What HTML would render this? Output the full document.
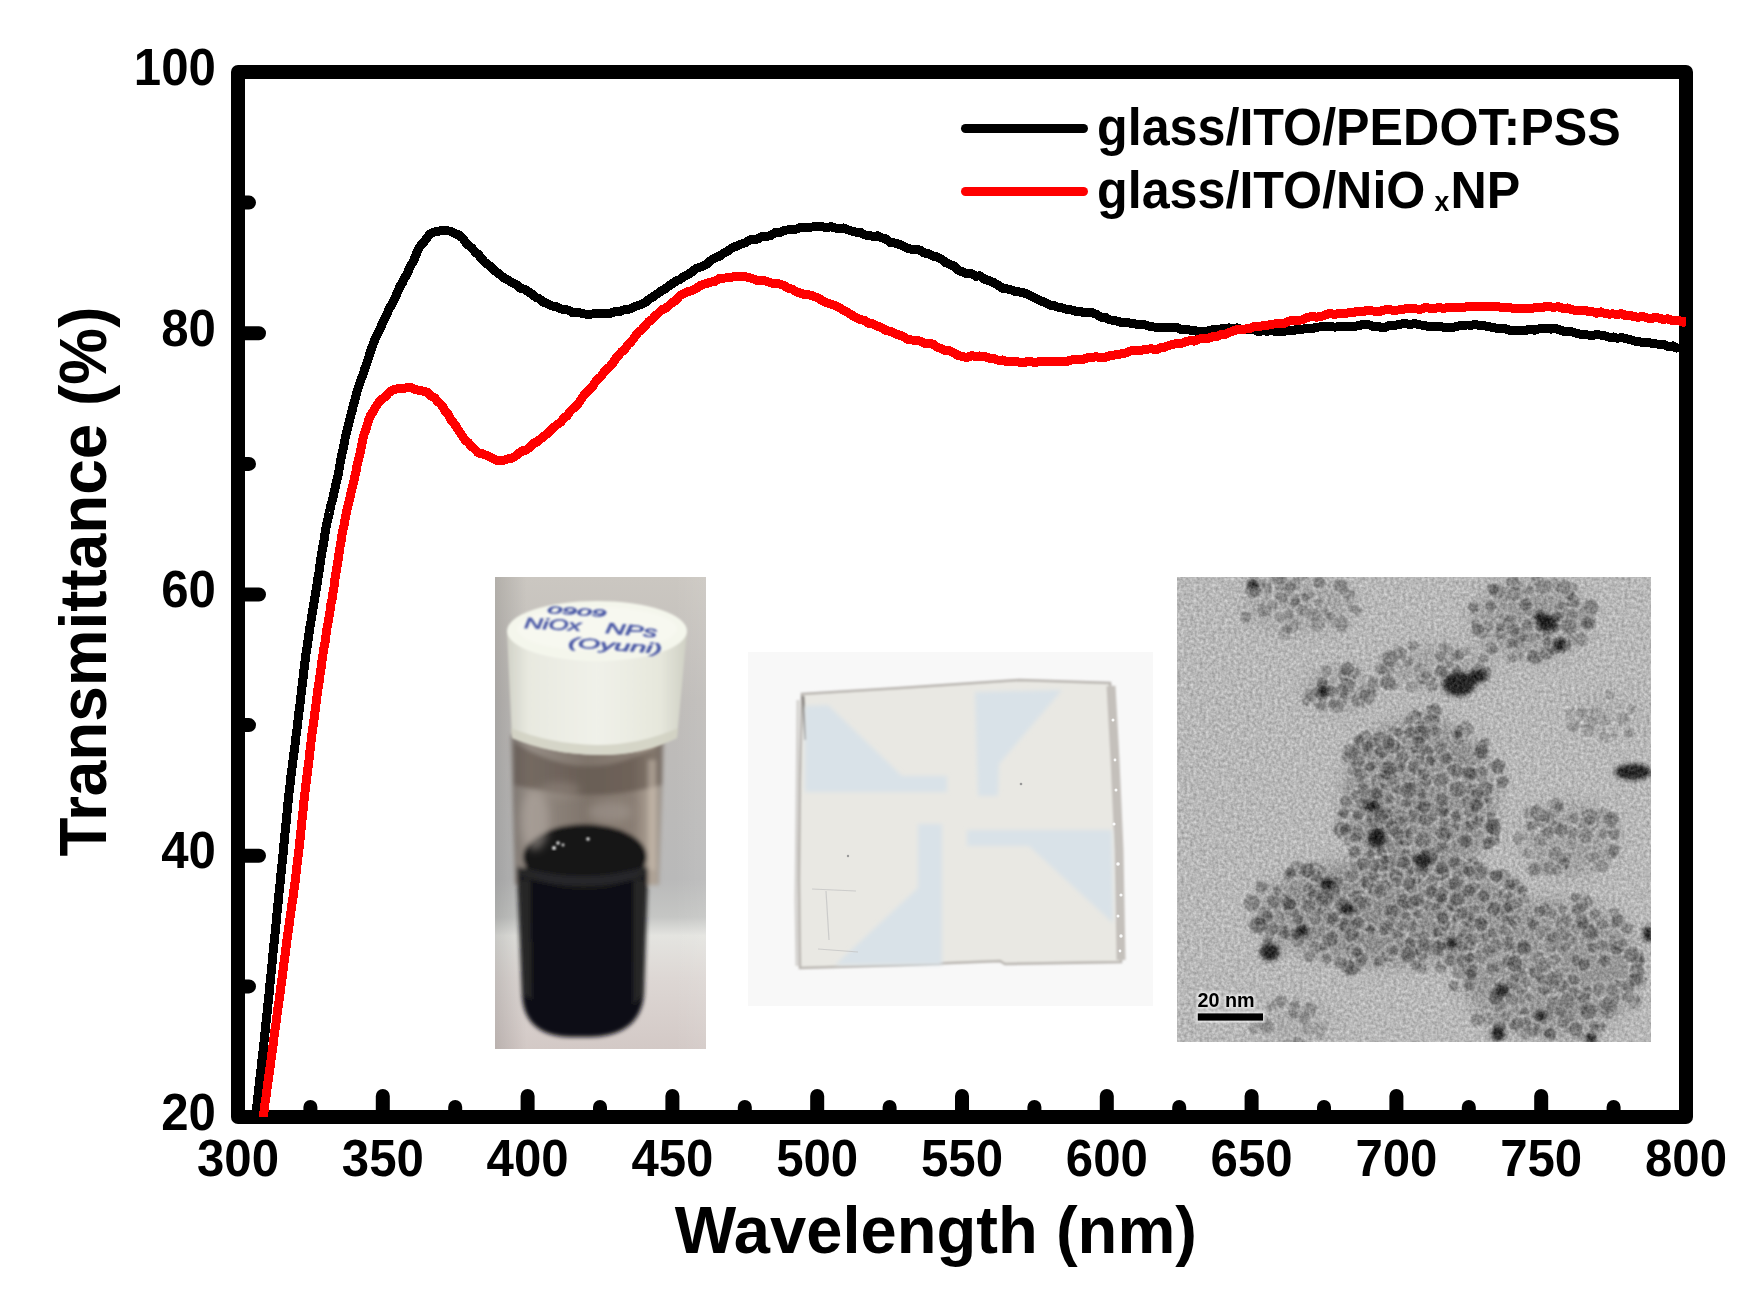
<!DOCTYPE html>
<html><head><meta charset="utf-8"><title>Transmittance spectra</title>
<style>html,body{margin:0;padding:0;background:#fff;width:1760px;height:1303px;overflow:hidden}svg{display:block}</style>
</head><body>
<svg width="1760" height="1303" viewBox="0 0 1760 1303">
<rect width="100%" height="100%" fill="#fff"/>
<defs>
  <filter id="b1" x="-5%" y="-5%" width="110%" height="110%"><feGaussianBlur stdDeviation="1"/></filter>
  <filter id="b2" x="-10%" y="-10%" width="120%" height="120%"><feGaussianBlur stdDeviation="2"/></filter>
  <filter id="b4" x="-20%" y="-20%" width="140%" height="140%"><feGaussianBlur stdDeviation="4"/></filter>
  <filter id="b8" x="-30%" y="-30%" width="160%" height="160%"><feGaussianBlur stdDeviation="8"/></filter>
  <clipPath id="cv"><rect x="495" y="577" width="211" height="472"/></clipPath>
  <clipPath id="cg"><rect x="748" y="652" width="405" height="354"/></clipPath>
  <clipPath id="ct"><rect x="1177" y="577" width="474" height="465"/></clipPath>
  <linearGradient id="vbg" x1="0" y1="0" x2="0" y2="1">
    <stop offset="0" stop-color="#cbc7c1"/>
    <stop offset="0.26" stop-color="#bfbcb9"/>
    <stop offset="0.64" stop-color="#b9b9b9"/>
    <stop offset="0.72" stop-color="#c5c6c4"/>
    <stop offset="0.76" stop-color="#e4e4e0"/>
    <stop offset="0.85" stop-color="#ddd7d4"/>
    <stop offset="1" stop-color="#d3c9c6"/>
  </linearGradient>
  <linearGradient id="vbgh" x1="0" y1="0" x2="1" y2="0">
    <stop offset="0" stop-color="#000" stop-opacity="0.12"/>
    <stop offset="0.15" stop-color="#000" stop-opacity="0"/>
    <stop offset="0.85" stop-color="#fff" stop-opacity="0"/>
    <stop offset="1" stop-color="#fff" stop-opacity="0.08"/>
  </linearGradient>
  <linearGradient id="capside" x1="0" y1="0" x2="1" y2="0">
    <stop offset="0" stop-color="#d2d3c8"/>
    <stop offset="0.12" stop-color="#e8e9e0"/>
    <stop offset="0.5" stop-color="#f0f1e9"/>
    <stop offset="0.85" stop-color="#e6e7dc"/>
    <stop offset="1" stop-color="#cfd0c4"/>
  </linearGradient>
  <linearGradient id="glass" x1="0" y1="0" x2="1" y2="0">
    <stop offset="0" stop-color="#7c7570"/>
    <stop offset="0.12" stop-color="#958c84"/>
    <stop offset="0.5" stop-color="#7f746b"/>
    <stop offset="0.8" stop-color="#8a7e74"/>
    <stop offset="0.93" stop-color="#b2a699"/>
    <stop offset="1" stop-color="#938c86"/>
  </linearGradient>
  <linearGradient id="liq" x1="0" y1="0" x2="1" y2="0">
    <stop offset="0" stop-color="#2c2c2c"/>
    <stop offset="0.15" stop-color="#161617"/>
    <stop offset="0.5" stop-color="#0b0b0d"/>
    <stop offset="0.85" stop-color="#151516"/>
    <stop offset="1" stop-color="#303030"/>
  </linearGradient>
  <filter id="grain" x="0" y="0" width="100%" height="100%" color-interpolation-filters="sRGB">
    <feTurbulence type="fractalNoise" baseFrequency="0.32" numOctaves="2" seed="3" result="n"/>
    <feColorMatrix in="n" type="matrix" values="1 0 0 0 0  1 0 0 0 0  1 0 0 0 0  0 0 0 0 1" result="ng"/>
    <feGaussianBlur in="ng" stdDeviation="0.7" result="nb"/>
    <feComposite in="nb" in2="SourceGraphic" operator="arithmetic" k1="0" k2="0.33" k3="1" k4="-0.165"/>
  </filter>
</defs>

<!-- ============ VIAL PHOTO ============ -->
<g clip-path="url(#cv)">
  <rect x="495" y="577" width="211" height="472" fill="url(#vbg)"/>
  <rect x="495" y="577" width="211" height="472" fill="url(#vbgh)"/>
  <g filter="url(#b2)">
    <!-- glass tube -->
    <path d="M511,735 L664,735 L659,885 L515,885 Z" fill="url(#glass)"/>
    <path d="M514,742 Q590,790 662,742 L662,785 Q590,805 514,785 Z" fill="#54483f" opacity="0.5"/>
    <rect x="648" y="760" width="8" height="110" fill="#c9bdb0" opacity="0.5"/>
    <!-- liquid -->
    <path d="M517,868 L648,868 L644,995 Q640,1036 590,1037 L570,1037 Q524,1036 522,995 Z" fill="#111113"/>
    <path d="M519,880 L530,880 L532,1000 L524,995 Z" fill="#2a2a2b" opacity="0.8"/>
    <path d="M634,880 L646,880 L643,995 L633,1005 Z" fill="#2c2c2d" opacity="0.8"/>
    <ellipse cx="585" cy="857" rx="62" ry="33" fill="#141416"/>
    <path d="M517,866 Q584,886 648,866 L648,876 Q584,896 517,876 Z" fill="#3a3a3c" opacity="0.5"/>
  </g>
  <g filter="url(#b4)">
    <ellipse cx="535" cy="820" rx="14" ry="30" fill="#b3aaa2" opacity="0.55"/>
    <ellipse cx="610" cy="812" rx="22" ry="10" fill="#a69c93" opacity="0.5"/>
    <ellipse cx="560" cy="790" rx="20" ry="8" fill="#a0968d" opacity="0.4"/>
  </g>
  <g fill="#e8e8e8" filter="url(#b1)">
    <circle cx="554" cy="848" r="2"/><circle cx="558" cy="843" r="1.8"/><circle cx="563" cy="845" r="1.4"/>
    <circle cx="588" cy="839" r="1.8"/>
  </g>
  <g filter="url(#b1)">
    <!-- cap side -->
    <path d="M507,631 L687,631 L677,738 Q640,756 597,755 Q550,754 512,738 Z" fill="url(#capside)"/>
    <path d="M511,728 Q550,744 597,745 Q640,745 678,728 L677,738 Q640,756 597,755 Q550,754 512,738 Z" fill="#cfd0c0" opacity="0.8"/>
    <!-- cap top -->
    <ellipse cx="597" cy="631" rx="90" ry="30" fill="#f4f6ec"/>
    <ellipse cx="597" cy="629" rx="80" ry="22" fill="#f7f8f0"/>
  </g>
  <g fill="#2c3c98" stroke="#2c3c98" stroke-width="0.6" font-family="Liberation Sans, sans-serif" font-style="italic" opacity="0.85" filter="url(#b1)">
    <text x="547" y="613" font-size="10" textLength="59" lengthAdjust="spacingAndGlyphs" transform="rotate(4 547 613)">0909</text>
    <text x="524" y="628" font-size="15" textLength="57" lengthAdjust="spacingAndGlyphs" transform="rotate(3 524 628)">NiOx</text>
    <text x="605" y="633" font-size="15" textLength="52" lengthAdjust="spacingAndGlyphs" transform="rotate(5 605 633)">NPs</text>
    <text x="568" y="647" font-size="14" textLength="94" lengthAdjust="spacingAndGlyphs" transform="rotate(4 568 647)">(Oyuni)</text>
  </g>
</g>

<!-- ============ GLASS SUBSTRATE PHOTO ============ -->
<g clip-path="url(#cg)">
  <rect x="748" y="652" width="405" height="354" fill="#f8f8f8"/>
  <g filter="url(#b1)">
    <path d="M798,700 L797,800 L796,900 L797,966" fill="none" stroke="#d4d2cf" stroke-width="3"/>
    <path d="M802,694 L900,688 L1019,680 L1110,683 L1113,720 L1116,800 L1120,880 L1121,962 L1005,964 L1000,961 L900,965 L800,968 L799,880 L800,780 Z" fill="#e9e8e3" stroke="#b9b5b0" stroke-width="2.5"/>
    <path d="M803,696 L806,740" stroke="#8e8a86" stroke-width="3"/>
    <path d="M1111,686 L1115,760 L1119,850 L1121,960" fill="none" stroke="#c4c0bb" stroke-width="9"/>
  </g>
  <g fill="#fbfbfb">
    <circle cx="1114" cy="824" r="1.6"/><circle cx="1118" cy="864" r="1.8"/><circle cx="1121" cy="895" r="1.6"/><circle cx="1118" cy="916" r="1.5"/><circle cx="1121" cy="936" r="1.7"/><circle cx="1120" cy="951" r="1.4"/>
    <circle cx="1113" cy="720" r="1.5"/><circle cx="1115" cy="760" r="1.4"/><circle cx="1116" cy="790" r="1.5"/>
  </g>
  <g fill="#d9e2e8" filter="url(#b2)">
    <path d="M805,706 L828,705 L902,776 L947,776 L947,792 L805,792 Z"/>
    <path d="M975,692 L1062,690 L999,764 L998,796 L978,796 Z"/>
    <path d="M967,830 L1112,830 L1113,923 L1029,846 L967,846 Z"/>
    <path d="M918,824 L942,824 L942,965 L835,965 L918,888 Z"/>
  </g>
  <g stroke="#c4c4c4" stroke-width="1.2" fill="none" opacity="0.8">
    <path d="M812,889 L856,891 M826,891 L829,940 M818,949 L858,952"/>
  </g>
  <circle cx="1021" cy="784" r="1.3" fill="#999"/>
  <circle cx="848" cy="856" r="1.2" fill="#999"/>
</g>

<!-- ============ TEM IMAGE ============ -->
<g clip-path="url(#ct)">
  <g filter="url(#grain)">
  <rect x="1177" y="577" width="474" height="465" fill="#b8b8b8"/>
  <g filter="url(#b8)"><ellipse cx="1300" cy="605" rx="54" ry="27" fill="#808080" opacity="0.33"/><ellipse cx="1530" cy="620" rx="58" ry="38" fill="#808080" opacity="0.55"/><ellipse cx="1340" cy="690" rx="34" ry="20" fill="#808080" opacity="0.44"/><ellipse cx="1435" cy="668" rx="54" ry="22" fill="#808080" opacity="0.39"/><ellipse cx="1420" cy="800" rx="76" ry="81" fill="#808080" opacity="0.72"/><ellipse cx="1390" cy="912" rx="130" ry="52" fill="#808080" opacity="0.77"/><ellipse cx="1568" cy="840" rx="47" ry="36" fill="#808080" opacity="0.44"/><ellipse cx="1608" cy="716" rx="34" ry="20" fill="#808080" opacity="0.17"/><ellipse cx="1550" cy="968" rx="90" ry="68" fill="#808080" opacity="0.61"/><ellipse cx="1293" cy="1022" rx="40" ry="20" fill="#808080" opacity="0.22"/></g>
<g filter="url(#b1)" fill-opacity="0.6" stroke="#dcdcdc" stroke-opacity="0.55" stroke-width="1.4" stroke-linejoin="round"><polygon points="1263.9,581.3 1268.0,585.1 1267.3,590.5 1262.0,592.9 1256.4,589.5 1258.3,583.1" fill="rgb(133,133,133)"/><polygon points="1331.2,609.7 1329.2,618.5 1320.6,621.7 1317.2,613.3 1322.3,606.1" fill="rgb(113,113,113)"/><polygon points="1307.8,604.3 1305.1,611.2 1297.6,611.0 1295.9,603.6 1302.2,598.1" fill="rgb(100,100,100)"/><polygon points="1279.2,604.9 1273.4,597.8 1276.1,589.5 1284.6,587.8 1291.0,593.9 1288.9,603.4" fill="rgb(112,112,112)"/><polygon points="1352.0,599.7 1355.4,604.9 1353.1,610.7 1346.6,611.7 1343.9,606.1 1345.1,599.5" fill="rgb(121,121,121)"/><polygon points="1347.2,613.5 1346.3,607.6 1349.7,603.6 1355.2,604.5 1358.4,610.2 1353.2,614.1" fill="rgb(125,125,125)"/><polygon points="1307.5,571.8 1309.0,578.8 1303.3,583.7 1295.7,581.2 1295.4,573.5 1301.0,569.2" fill="rgb(129,129,129)"/><polygon points="1241.5,622.2 1238.9,616.9 1241.1,610.8 1247.5,610.8 1253.1,613.9 1252.1,620.4 1247.4,625.2" fill="rgb(113,113,113)"/><polygon points="1262.8,578.3 1273.4,581.8 1272.6,594.5 1260.8,594.5 1253.7,585.5" fill="rgb(119,119,119)"/><polygon points="1289.9,618.8 1286.7,624.1 1280.8,622.9 1276.3,619.2 1277.2,612.8 1283.2,610.5 1289.0,612.8" fill="rgb(126,126,126)"/><polygon points="1329.3,623.3 1323.8,619.1 1326.1,612.2 1333.0,610.2 1337.1,615.8 1335.4,621.9" fill="rgb(109,109,109)"/><polygon points="1301.3,590.1 1291.6,591.8 1287.5,583.8 1292.6,575.6 1302.2,579.8" fill="rgb(118,118,118)"/><polygon points="1311.5,631.7 1308.0,623.8 1312.0,616.3 1320.3,614.7 1326.9,620.0 1325.7,628.0 1319.8,633.6" fill="rgb(132,132,132)"/><polygon points="1286.0,617.4 1295.3,617.9 1301.8,624.4 1297.3,632.8 1287.8,635.0 1282.3,626.6" fill="rgb(118,118,118)"/><polygon points="1314.8,590.0 1312.4,583.5 1313.9,576.7 1320.6,576.3 1326.9,578.8 1326.5,585.7 1321.7,589.8" fill="rgb(122,122,122)"/><polygon points="1294.9,612.1 1294.4,619.2 1287.6,622.1 1281.7,617.6 1283.6,611.0 1289.5,607.3" fill="rgb(110,110,110)"/><polygon points="1258.4,585.5 1264.0,589.2 1263.0,595.4 1259.1,599.3 1253.2,599.0 1249.6,593.6 1252.7,588.2" fill="rgb(126,126,126)"/><polygon points="1287.0,592.7 1275.6,589.6 1270.9,578.5 1282.3,573.3 1291.2,580.9" fill="rgb(102,102,102)"/><polygon points="1269.9,621.2 1264.3,616.1 1265.3,609.2 1272.5,608.9 1275.4,615.5" fill="rgb(139,139,139)"/><polygon points="1334.5,617.5 1341.4,613.1 1348.5,617.6 1350.8,625.7 1345.5,633.4 1336.0,632.7 1331.6,624.9" fill="rgb(123,123,123)"/><polygon points="1311.8,578.2 1321.1,574.1 1327.7,582.6 1321.3,590.6 1312.5,587.4" fill="rgb(123,123,123)"/><polygon points="1294.7,602.7 1298.0,596.9 1304.9,597.7 1308.5,603.0 1308.0,609.9 1301.3,611.8 1295.6,608.9" fill="rgb(106,106,106)"/><polygon points="1289.9,579.2 1296.9,582.8 1296.8,590.3 1290.9,596.7 1283.8,591.4 1281.8,582.8" fill="rgb(110,110,110)"/><polygon points="1302.9,618.9 1294.9,609.1 1302.8,600.8 1313.5,602.4 1313.4,613.7" fill="rgb(139,139,139)"/><polygon points="1347.4,587.1 1355.8,590.7 1355.5,600.9 1345.2,601.8 1339.8,593.3" fill="rgb(115,115,115)"/><polygon points="1339.6,595.1 1332.6,588.6 1334.3,579.2 1343.1,578.1 1349.7,582.9 1348.7,592.0" fill="rgb(101,101,101)"/><polygon points="1305.9,589.2 1312.9,588.9 1314.8,595.7 1311.1,601.3 1303.7,601.2 1301.1,594.1" fill="rgb(100,100,100)"/><polygon points="1268.2,579.4 1271.8,570.0 1281.9,567.9 1287.3,576.4 1284.5,585.8 1274.9,586.1" fill="rgb(130,130,130)"/><polygon points="1358.4,602.1 1359.3,608.9 1353.2,612.9 1346.8,609.4 1346.9,602.3 1352.7,599.1" fill="rgb(137,137,137)"/><polygon points="1257.7,582.2 1263.0,590.3 1258.0,597.3 1249.6,599.8 1243.3,592.0 1247.7,582.6" fill="rgb(104,104,104)"/><polygon points="1298.8,593.2 1303.7,597.0 1302.3,603.8 1295.9,606.1 1290.6,602.9 1289.9,597.2 1293.4,592.9" fill="rgb(107,107,107)"/><polygon points="1301.3,591.9 1308.8,593.1 1311.0,600.0 1304.7,603.2 1299.1,599.2" fill="rgb(113,113,113)"/><polygon points="1288.7,603.4 1290.5,597.2 1297.0,594.7 1301.4,599.7 1302.1,605.5 1297.9,610.1 1291.3,609.3" fill="rgb(105,105,105)"/><polygon points="1292.6,636.2 1286.6,642.5 1279.1,638.0 1276.4,629.4 1284.3,623.9 1293.0,627.4" fill="rgb(135,135,135)"/><polygon points="1259.2,618.0 1256.6,611.2 1257.3,603.3 1265.3,601.6 1271.7,605.8 1272.2,613.3 1267.0,618.7" fill="rgb(108,108,108)"/><polygon points="1313.9,607.4 1312.1,601.5 1316.2,597.4 1321.8,596.4 1325.7,600.9 1323.6,605.9 1319.5,609.8" fill="rgb(133,133,133)"/><polygon points="1270.3,614.1 1264.4,606.3 1269.4,598.0 1278.1,601.1 1279.3,610.1" fill="rgb(139,139,139)"/><polygon points="1271.5,616.8 1276.2,610.4 1284.4,610.9 1287.0,618.5 1282.2,623.9 1275.5,623.1" fill="rgb(140,140,140)"/><polygon points="1312.1,610.7 1308.4,619.2 1299.0,618.5 1295.0,610.7 1299.2,603.2 1307.3,604.1" fill="rgb(130,130,130)"/><polygon points="1318.5,622.0 1309.8,622.9 1305.1,615.7 1308.4,607.7 1317.1,607.0 1322.9,614.0" fill="rgb(123,123,123)"/><polygon points="1353.5,603.6 1362.1,606.0 1363.7,615.2 1355.0,617.1 1348.8,611.4" fill="rgb(123,123,123)"/><polygon points="1293.1,629.7 1290.1,633.6 1285.1,634.5 1280.5,630.9 1282.5,625.4 1287.0,622.9 1292.0,624.6" fill="rgb(110,110,110)"/><polygon points="1521.8,661.6 1513.7,660.0 1511.2,651.4 1519.9,646.8 1525.8,654.0" fill="rgb(125,125,125)"/><polygon points="1495.9,628.5 1488.4,635.2 1480.3,629.9 1481.6,620.2 1491.6,619.5" fill="rgb(123,123,123)"/><polygon points="1530.6,648.2 1541.9,651.0 1544.0,662.8 1533.1,665.7 1524.1,658.7" fill="rgb(85,85,85)"/><polygon points="1485.2,640.1 1474.1,637.7 1472.3,626.5 1482.5,622.9 1490.1,630.0" fill="rgb(82,82,82)"/><polygon points="1568.8,646.4 1561.9,646.1 1558.8,639.4 1561.9,632.6 1569.1,631.5 1575.2,635.6 1575.4,643.3" fill="rgb(90,90,90)"/><polygon points="1552.8,605.1 1561.0,598.4 1570.8,604.9 1565.8,615.2 1555.2,615.2" fill="rgb(108,108,108)"/><polygon points="1564.5,635.0 1569.5,642.7 1564.1,649.0 1556.3,647.0 1556.7,639.0" fill="rgb(110,110,110)"/><polygon points="1505.5,588.4 1505.8,577.0 1517.5,575.3 1524.0,585.5 1515.2,593.9" fill="rgb(103,103,103)"/><polygon points="1528.7,581.9 1535.1,581.3 1539.7,585.6 1538.4,591.3 1534.1,595.5 1528.6,593.0 1527.1,587.8" fill="rgb(108,108,108)"/><polygon points="1553.0,633.7 1546.1,629.6 1548.5,621.4 1556.0,620.3 1561.1,624.9 1559.7,631.8" fill="rgb(96,96,96)"/><polygon points="1487.0,653.0 1487.1,647.9 1491.2,645.3 1496.4,645.4 1499.3,650.5 1496.6,655.7 1491.2,655.8" fill="rgb(119,119,119)"/><polygon points="1505.2,611.0 1509.7,615.2 1508.9,622.2 1501.8,623.1 1497.2,618.3 1499.0,612.0" fill="rgb(125,125,125)"/><polygon points="1531.2,575.7 1537.6,570.9 1543.9,576.3 1542.5,583.5 1536.2,588.8 1530.8,582.5" fill="rgb(114,114,114)"/><polygon points="1492.6,614.5 1484.2,610.6 1483.9,601.9 1492.7,598.6 1498.4,606.5" fill="rgb(102,102,102)"/><polygon points="1484.2,642.0 1494.3,640.5 1501.2,649.2 1492.8,657.2 1483.9,652.0" fill="rgb(122,122,122)"/><polygon points="1542.1,624.0 1547.1,631.4 1542.3,638.3 1534.1,636.0 1534.7,628.0" fill="rgb(125,125,125)"/><polygon points="1540.5,646.9 1547.6,646.2 1554.1,648.3 1555.0,655.6 1549.9,660.7 1542.9,660.1 1538.8,654.2" fill="rgb(86,86,86)"/><polygon points="1506.3,590.8 1511.5,585.6 1519.3,585.9 1525.2,592.8 1519.8,599.7 1512.7,604.2 1506.6,598.3" fill="rgb(117,117,117)"/><polygon points="1519.2,631.8 1520.8,624.3 1524.5,617.6 1531.8,620.2 1534.8,626.1 1532.7,632.1 1526.3,636.4" fill="rgb(102,102,102)"/><polygon points="1510.6,644.4 1514.9,636.8 1523.9,638.2 1526.0,648.3 1516.3,651.8" fill="rgb(118,118,118)"/><polygon points="1576.1,612.3 1578.8,607.0 1584.8,607.4 1588.5,611.6 1588.4,617.8 1582.6,621.0 1576.8,618.1" fill="rgb(104,104,104)"/><polygon points="1564.5,610.6 1568.2,616.5 1567.7,623.7 1560.5,623.7 1555.7,619.4 1558.0,613.3" fill="rgb(86,86,86)"/><polygon points="1501.4,584.7 1508.9,587.1 1512.0,594.5 1508.5,602.4 1500.0,602.0 1494.5,596.8 1494.3,588.8" fill="rgb(120,120,120)"/><polygon points="1551.1,613.6 1556.7,610.2 1562.3,612.5 1563.9,618.9 1558.4,623.2 1551.8,620.6" fill="rgb(81,81,81)"/><polygon points="1534.0,608.0 1533.9,614.0 1528.2,616.7 1522.2,614.7 1521.8,608.6 1524.5,603.4 1530.8,602.9" fill="rgb(111,111,111)"/><polygon points="1516.1,626.2 1507.2,630.7 1502.0,622.3 1506.3,613.1 1516.9,616.1" fill="rgb(92,92,92)"/><polygon points="1563.2,582.9 1562.5,592.0 1554.0,593.9 1547.3,591.1 1545.5,584.1 1549.5,577.9 1557.2,577.1" fill="rgb(125,125,125)"/><polygon points="1472.3,630.2 1471.8,623.7 1478.3,620.7 1483.1,625.0 1484.0,630.3 1481.1,635.1 1475.2,635.0" fill="rgb(85,85,85)"/><polygon points="1530.9,582.7 1535.7,591.1 1529.5,597.0 1522.0,594.4 1522.8,586.5" fill="rgb(125,125,125)"/><polygon points="1565.2,606.4 1566.8,598.0 1572.8,593.0 1579.6,597.0 1581.8,605.6 1573.7,609.0" fill="rgb(85,85,85)"/><polygon points="1533.7,603.4 1530.0,610.7 1521.5,612.8 1518.2,605.0 1520.7,597.8 1529.1,596.0" fill="rgb(86,86,86)"/><polygon points="1586.8,630.3 1578.4,623.9 1581.4,613.6 1591.6,614.8 1594.9,623.8" fill="rgb(103,103,103)"/><polygon points="1565.3,610.3 1573.4,607.5 1579.0,612.6 1578.6,619.7 1571.9,624.3 1565.3,618.9" fill="rgb(110,110,110)"/><polygon points="1563.5,584.6 1569.1,580.3 1576.6,582.0 1579.6,589.6 1575.4,596.6 1567.5,596.7 1561.1,592.0" fill="rgb(122,122,122)"/><polygon points="1585.6,631.7 1577.9,623.4 1586.0,615.6 1596.0,618.3 1595.8,629.1" fill="rgb(90,90,90)"/><polygon points="1533.6,628.7 1540.1,626.8 1544.3,631.5 1546.0,637.5 1540.6,640.5 1534.8,640.4 1532.4,635.0" fill="rgb(103,103,103)"/><polygon points="1487.1,593.4 1489.6,585.8 1496.1,581.5 1504.2,584.2 1504.6,592.4 1501.5,600.4 1493.1,598.7" fill="rgb(111,111,111)"/><polygon points="1562.9,654.8 1555.4,645.4 1562.4,636.2 1572.3,639.7 1572.3,649.4" fill="rgb(101,101,101)"/><polygon points="1508.5,632.0 1506.8,639.9 1498.8,641.0 1492.9,635.5 1495.1,627.1 1503.3,626.7" fill="rgb(110,110,110)"/><polygon points="1470.3,627.2 1471.0,619.8 1478.6,618.0 1481.1,624.8 1477.0,630.3" fill="rgb(80,80,80)"/><polygon points="1566.5,634.8 1560.3,629.7 1560.2,621.0 1567.9,617.6 1575.5,619.5 1578.9,626.9 1575.0,634.8" fill="rgb(102,102,102)"/><polygon points="1598.8,603.6 1599.7,611.2 1593.5,616.9 1585.4,614.3 1582.3,606.9 1584.9,598.6 1593.5,598.5" fill="rgb(99,99,99)"/><polygon points="1465.8,608.1 1471.4,601.0 1480.0,603.0 1479.5,611.6 1472.0,614.4" fill="rgb(88,88,88)"/><polygon points="1510.2,634.0 1512.8,628.2 1519.2,627.3 1522.6,632.7 1520.4,638.7 1513.9,639.2" fill="rgb(101,101,101)"/><polygon points="1552.3,580.5 1551.8,590.7 1543.4,595.6 1534.1,591.3 1535.4,581.4 1543.2,577.5" fill="rgb(117,117,117)"/><polygon points="1485.9,631.6 1480.8,636.0 1474.0,637.2 1469.8,631.2 1471.5,624.2 1478.1,622.2 1485.3,624.0" fill="rgb(119,119,119)"/><polygon points="1550.2,630.2 1541.7,635.6 1533.3,628.8 1538.1,619.0 1547.5,621.4" fill="rgb(123,123,123)"/><polygon points="1492.5,597.0 1487.1,592.7 1485.9,585.2 1493.3,582.1 1500.6,585.9 1499.2,594.0" fill="rgb(87,87,87)"/><polygon points="1548.7,642.3 1542.9,641.9 1540.5,636.6 1542.1,630.8 1548.2,628.6 1553.7,632.4 1553.0,638.7" fill="rgb(96,96,96)"/><polygon points="1555.5,648.2 1551.4,643.2 1553.6,636.5 1560.4,634.5 1567.3,637.9 1566.2,645.2 1561.5,649.6" fill="rgb(123,123,123)"/><polygon points="1547.5,641.5 1555.7,638.2 1563.6,644.0 1560.8,653.5 1551.8,656.3 1544.3,650.3" fill="rgb(96,96,96)"/><polygon points="1588.6,645.3 1579.6,648.0 1571.3,643.8 1573.5,634.9 1581.0,629.7 1588.5,635.6" fill="rgb(124,124,124)"/><polygon points="1552.2,637.3 1553.5,643.3 1549.0,647.5 1542.1,646.6 1541.6,639.5 1546.4,635.9" fill="rgb(96,96,96)"/><polygon points="1534.2,628.5 1534.1,621.1 1538.5,615.1 1547.0,614.5 1550.9,622.2 1548.7,630.1 1540.9,633.2" fill="rgb(86,86,86)"/><polygon points="1516.1,649.0 1507.0,648.6 1506.3,639.7 1513.7,634.4 1520.8,641.1" fill="rgb(84,84,84)"/><polygon points="1522.9,632.0 1516.5,638.9 1508.8,635.0 1505.5,627.6 1511.8,622.6 1519.1,624.3" fill="rgb(99,99,99)"/><polygon points="1574.6,590.5 1576.2,598.1 1570.1,602.8 1563.3,598.0 1566.4,590.2" fill="rgb(84,84,84)"/><polygon points="1522.8,641.4 1523.4,634.4 1528.4,629.8 1534.8,633.1 1536.4,640.6 1529.7,644.8" fill="rgb(120,120,120)"/><polygon points="1499.2,620.7 1506.3,623.6 1505.7,631.7 1497.3,633.6 1493.7,626.1" fill="rgb(95,95,95)"/><polygon points="1504.5,655.7 1511.5,650.9 1517.8,655.5 1516.7,663.7 1507.8,664.0" fill="rgb(120,120,120)"/><polygon points="1556.8,582.0 1564.6,578.2 1572.4,583.5 1570.5,592.7 1562.1,596.3 1553.6,591.1" fill="rgb(113,113,113)"/><polygon points="1520.3,644.3 1516.4,637.5 1521.5,632.1 1528.7,634.4 1527.9,642.2" fill="rgb(82,82,82)"/><polygon points="1316.5,700.6 1322.9,699.3 1328.6,701.5 1328.6,707.6 1325.8,713.3 1318.8,713.0 1314.5,707.4" fill="rgb(117,117,117)"/><polygon points="1370.1,705.2 1360.6,703.4 1357.8,695.0 1359.4,686.3 1368.3,684.1 1375.0,689.6 1376.4,698.1" fill="rgb(115,115,115)"/><polygon points="1336.1,697.8 1344.0,694.6 1349.4,700.6 1345.4,707.3 1337.1,706.5" fill="rgb(85,85,85)"/><polygon points="1327.4,705.4 1322.4,711.9 1314.9,708.8 1311.7,702.7 1314.3,696.4 1321.1,692.4 1326.5,698.3" fill="rgb(113,113,113)"/><polygon points="1323.4,697.7 1317.4,702.1 1310.4,700.2 1307.8,693.6 1310.7,687.2 1317.7,685.8 1323.9,690.0" fill="rgb(115,115,115)"/><polygon points="1352.7,689.9 1345.2,689.5 1341.9,682.7 1344.0,675.4 1351.4,673.8 1357.7,677.6 1357.7,684.9" fill="rgb(126,126,126)"/><polygon points="1327.6,690.2 1327.0,699.1 1319.2,702.4 1313.7,695.5 1318.7,688.2" fill="rgb(109,109,109)"/><polygon points="1364.5,700.1 1358.5,696.8 1357.2,689.7 1362.0,683.3 1370.4,684.2 1375.2,691.3 1371.7,698.7" fill="rgb(97,97,97)"/><polygon points="1354.9,680.6 1349.0,677.9 1348.8,671.8 1351.9,666.9 1358.3,666.3 1361.4,671.8 1359.6,677.0" fill="rgb(97,97,97)"/><polygon points="1329.6,682.2 1324.2,689.9 1315.7,686.0 1316.3,677.3 1325.0,673.7" fill="rgb(94,94,94)"/><polygon points="1365.0,685.4 1369.5,675.2 1380.8,678.5 1380.8,689.2 1371.1,694.5" fill="rgb(105,105,105)"/><polygon points="1330.4,710.9 1329.2,703.6 1334.2,697.3 1341.2,700.5 1345.7,705.7 1342.6,711.9 1336.3,715.0" fill="rgb(106,106,106)"/><polygon points="1341.4,681.9 1336.5,677.1 1338.0,670.3 1344.0,666.6 1351.5,668.7 1351.7,676.2 1348.7,682.9" fill="rgb(90,90,90)"/><polygon points="1341.6,663.3 1348.4,660.2 1354.6,664.9 1354.9,672.7 1348.8,677.0 1341.7,676.0 1337.8,669.6" fill="rgb(90,90,90)"/><polygon points="1361.2,693.4 1370.4,688.9 1377.4,697.2 1371.3,705.7 1360.5,704.1" fill="rgb(100,100,100)"/><polygon points="1300.1,701.6 1302.0,692.9 1311.0,694.6 1313.8,703.1 1305.9,707.5" fill="rgb(98,98,98)"/><polygon points="1345.4,696.7 1337.7,690.2 1338.9,680.9 1347.2,676.6 1356.0,681.7 1354.3,691.8" fill="rgb(99,99,99)"/><polygon points="1316.1,700.8 1308.5,703.5 1303.3,697.4 1303.7,688.5 1312.8,686.9 1320.4,692.7" fill="rgb(124,124,124)"/><polygon points="1334.5,687.5 1343.9,681.9 1350.4,689.8 1347.9,700.2 1337.2,697.5" fill="rgb(94,94,94)"/><polygon points="1331.5,710.4 1327.3,705.4 1328.5,698.6 1335.3,697.8 1339.4,702.6 1337.7,708.5" fill="rgb(99,99,99)"/><polygon points="1336.8,685.4 1340.5,691.8 1335.8,697.8 1327.5,698.3 1325.2,690.3 1329.3,683.4" fill="rgb(108,108,108)"/><polygon points="1364.8,707.8 1352.4,707.6 1348.9,696.6 1357.7,690.3 1368.8,695.3" fill="rgb(113,113,113)"/><polygon points="1375.9,697.8 1369.2,697.9 1365.5,693.4 1365.4,687.6 1370.4,684.7 1375.8,686.4 1378.3,691.6" fill="rgb(105,105,105)"/><polygon points="1328.5,663.3 1334.8,669.8 1330.8,678.3 1322.0,675.8 1319.1,666.5" fill="rgb(127,127,127)"/><polygon points="1372.8,696.4 1366.0,703.6 1357.6,697.3 1361.3,688.6 1370.2,687.9" fill="rgb(102,102,102)"/><polygon points="1453.2,675.3 1450.1,671.3 1450.8,666.4 1455.1,662.1 1460.8,664.9 1462.9,670.9 1459.1,676.1" fill="rgb(107,107,107)"/><polygon points="1448.7,659.4 1442.3,665.8 1433.9,661.5 1434.1,653.1 1440.2,647.6 1449.3,650.1" fill="rgb(105,105,105)"/><polygon points="1459.5,648.6 1464.1,645.6 1469.5,646.5 1472.3,651.6 1469.2,656.3 1464.0,657.4 1459.5,654.2" fill="rgb(130,130,130)"/><polygon points="1395.1,678.9 1399.8,681.5 1401.2,686.4 1398.1,690.5 1392.7,691.2 1388.7,687.1 1389.9,681.3" fill="rgb(126,126,126)"/><polygon points="1429.5,683.9 1421.4,680.4 1423.1,671.4 1432.1,670.2 1437.2,678.5" fill="rgb(95,95,95)"/><polygon points="1412.8,666.4 1404.4,668.3 1400.1,660.7 1406.2,654.8 1414.3,657.8" fill="rgb(103,103,103)"/><polygon points="1392.3,655.4 1394.9,648.9 1400.7,644.4 1407.0,648.6 1408.8,655.5 1404.3,661.2 1396.5,661.9" fill="rgb(100,100,100)"/><polygon points="1415.1,690.2 1413.3,682.9 1418.9,678.2 1425.2,680.6 1426.4,686.7 1422.2,691.7" fill="rgb(133,133,133)"/><polygon points="1407.3,648.3 1407.3,659.3 1396.5,661.0 1389.5,652.0 1397.8,644.1" fill="rgb(134,134,134)"/><polygon points="1454.7,661.4 1449.2,664.7 1442.6,662.0 1441.5,654.8 1446.6,650.3 1453.3,649.6 1455.8,655.7" fill="rgb(135,135,135)"/><polygon points="1398.0,681.7 1393.3,688.0 1386.7,692.5 1380.9,686.9 1379.7,679.4 1385.7,675.1 1393.3,674.7" fill="rgb(120,120,120)"/><polygon points="1435.6,677.5 1439.2,682.9 1438.9,689.0 1433.5,693.3 1426.7,690.8 1424.3,683.8 1428.9,678.3" fill="rgb(106,106,106)"/><polygon points="1438.0,653.5 1438.3,642.3 1449.1,641.6 1455.6,650.0 1447.6,657.8" fill="rgb(113,113,113)"/><polygon points="1385.2,660.3 1393.7,662.9 1395.8,671.5 1389.8,678.6 1380.4,676.0 1377.4,666.3" fill="rgb(110,110,110)"/><polygon points="1481.1,663.0 1487.3,663.1 1490.9,667.9 1491.0,674.9 1484.1,678.3 1478.0,674.3 1477.1,667.8" fill="rgb(95,95,95)"/><polygon points="1432.5,669.3 1437.2,663.7 1443.8,663.3 1448.2,668.0 1448.2,674.8 1442.2,679.4 1434.7,676.8" fill="rgb(122,122,122)"/><polygon points="1418.3,686.4 1415.8,693.1 1408.7,693.0 1403.2,687.5 1407.8,681.3 1415.0,679.9" fill="rgb(132,132,132)"/><polygon points="1421.5,679.4 1413.4,675.3 1411.9,666.3 1419.5,661.2 1428.9,664.0 1428.5,673.7" fill="rgb(126,126,126)"/><polygon points="1435.7,685.0 1427.2,687.6 1419.8,682.8 1420.8,673.6 1429.3,671.6 1437.2,675.7" fill="rgb(117,117,117)"/><polygon points="1455.1,658.7 1455.3,666.0 1449.4,670.3 1442.0,669.2 1438.1,662.2 1442.2,655.4 1449.4,654.5" fill="rgb(114,114,114)"/><polygon points="1465.4,653.3 1459.4,661.5 1448.6,658.6 1449.1,646.7 1459.8,645.5" fill="rgb(120,120,120)"/><polygon points="1473.0,669.8 1473.6,662.6 1479.9,659.8 1486.9,662.9 1485.5,670.5 1479.1,673.4" fill="rgb(114,114,114)"/><polygon points="1440.7,663.9 1435.1,661.0 1433.5,655.3 1436.6,650.3 1442.6,649.8 1446.5,654.4 1445.3,659.9" fill="rgb(122,122,122)"/><polygon points="1450.2,671.9 1444.8,678.5 1436.9,677.8 1433.2,670.8 1437.4,663.7 1445.5,664.9" fill="rgb(102,102,102)"/><polygon points="1465.7,650.0 1466.6,656.0 1463.5,661.5 1457.4,660.3 1452.2,656.6 1453.5,649.7 1459.9,647.1" fill="rgb(99,99,99)"/><polygon points="1472.8,678.7 1466.7,676.8 1466.7,670.4 1471.5,666.3 1478.4,668.5 1479.1,676.0" fill="rgb(132,132,132)"/><polygon points="1387.1,663.2 1390.0,672.6 1381.2,676.4 1373.1,671.1 1378.2,662.7" fill="rgb(103,103,103)"/><polygon points="1480.4,652.8 1486.6,652.6 1490.3,657.6 1487.6,663.8 1481.0,663.5 1476.8,658.3" fill="rgb(110,110,110)"/><polygon points="1449.4,660.0 1450.8,652.4 1456.9,649.2 1463.9,652.1 1464.1,660.5 1456.6,663.2" fill="rgb(121,121,121)"/><polygon points="1493.1,667.7 1493.6,675.3 1490.7,683.1 1482.3,681.8 1477.4,676.1 1478.4,668.4 1485.5,665.2" fill="rgb(122,122,122)"/><polygon points="1427.5,672.3 1431.0,678.7 1427.0,684.8 1419.1,685.9 1415.0,678.2 1419.7,671.1" fill="rgb(105,105,105)"/><polygon points="1432.3,677.8 1426.4,681.4 1419.6,678.0 1419.7,669.9 1426.9,667.5 1432.7,671.1" fill="rgb(126,126,126)"/><polygon points="1395.1,678.0 1398.6,685.7 1392.2,692.0 1384.2,690.2 1378.0,684.5 1381.1,676.3 1388.9,672.4" fill="rgb(112,112,112)"/><polygon points="1380.2,655.1 1387.2,649.5 1396.1,650.3 1398.4,658.4 1396.6,665.9 1388.7,668.8 1381.4,664.1" fill="rgb(96,96,96)"/><polygon points="1407.4,640.9 1415.8,639.8 1421.4,646.3 1415.1,652.4 1407.1,649.9" fill="rgb(115,115,115)"/><polygon points="1423.7,748.0 1419.3,755.6 1410.6,754.3 1409.2,745.5 1417.2,742.4" fill="rgb(86,86,86)"/><polygon points="1451.7,812.7 1449.5,819.4 1442.1,820.7 1438.5,814.6 1441.0,808.6 1447.4,807.6" fill="rgb(107,107,107)"/><polygon points="1370.4,849.4 1374.6,853.9 1376.0,860.3 1370.3,864.1 1364.2,862.2 1360.6,856.5 1364.9,851.8" fill="rgb(106,106,106)"/><polygon points="1400.8,875.0 1398.5,864.7 1408.8,861.8 1416.3,869.0 1410.6,878.6" fill="rgb(108,108,108)"/><polygon points="1411.4,799.2 1421.2,796.9 1428.1,803.5 1422.4,811.6 1413.0,809.6" fill="rgb(107,107,107)"/><polygon points="1413.8,836.4 1414.0,844.6 1407.3,849.3 1399.8,845.4 1399.9,837.3 1406.5,833.5" fill="rgb(105,105,105)"/><polygon points="1391.7,744.9 1398.5,741.3 1404.9,745.5 1404.2,752.8 1397.9,757.5 1391.4,752.6" fill="rgb(72,72,72)"/><polygon points="1506.9,763.2 1503.6,774.8 1492.8,773.6 1487.6,764.2 1496.8,756.7" fill="rgb(77,77,77)"/><polygon points="1383.7,815.0 1382.5,808.3 1387.6,803.9 1394.1,804.6 1397.6,810.2 1396.6,817.5 1389.1,819.7" fill="rgb(90,90,90)"/><polygon points="1486.0,843.1 1485.2,835.5 1490.0,828.8 1497.0,833.1 1499.8,840.1 1493.9,846.5" fill="rgb(101,101,101)"/><polygon points="1406.0,822.7 1405.2,814.0 1410.1,808.2 1418.1,806.6 1422.0,813.5 1421.7,821.3 1414.5,824.3" fill="rgb(96,96,96)"/><polygon points="1465.7,741.8 1458.9,746.6 1452.0,742.3 1450.9,734.4 1457.8,730.0 1465.7,733.2" fill="rgb(86,86,86)"/><polygon points="1363.0,760.3 1368.0,768.1 1361.1,775.0 1353.1,770.3 1354.9,762.1" fill="rgb(106,106,106)"/><polygon points="1413.2,805.1 1407.2,810.3 1400.1,806.1 1402.3,798.1 1411.4,796.1" fill="rgb(85,85,85)"/><polygon points="1366.8,766.3 1369.2,777.3 1358.2,782.3 1351.9,773.2 1355.7,762.1" fill="rgb(85,85,85)"/><polygon points="1473.4,766.0 1478.4,770.0 1480.1,775.4 1477.0,781.0 1470.9,779.7 1466.6,775.7 1467.6,769.4" fill="rgb(70,70,70)"/><polygon points="1414.1,832.3 1421.8,832.4 1425.3,839.2 1423.1,846.3 1416.0,849.0 1409.9,844.7 1407.6,837.0" fill="rgb(111,111,111)"/><polygon points="1383.5,787.3 1380.9,798.2 1371.7,800.7 1364.7,792.6 1372.3,784.6" fill="rgb(86,86,86)"/><polygon points="1474.4,812.7 1480.3,817.9 1478.8,825.6 1471.1,830.0 1464.3,823.5 1466.0,814.6" fill="rgb(84,84,84)"/><polygon points="1435.4,872.7 1435.0,866.4 1440.7,864.3 1446.1,866.5 1446.8,873.2 1440.6,876.9" fill="rgb(71,71,71)"/><polygon points="1395.1,724.5 1399.9,729.1 1398.9,736.2 1391.9,737.4 1386.9,732.8 1389.1,726.5" fill="rgb(108,108,108)"/><polygon points="1397.6,743.4 1395.9,751.8 1387.5,755.3 1379.0,749.4 1382.0,739.2 1391.4,737.0" fill="rgb(83,83,83)"/><polygon points="1459.8,829.5 1455.5,833.4 1450.2,831.3 1446.2,826.3 1450.0,820.7 1456.2,819.5 1460.4,824.0" fill="rgb(78,78,78)"/><polygon points="1350.1,769.7 1344.8,763.2 1346.8,756.1 1354.0,752.2 1360.4,758.3 1357.1,765.6" fill="rgb(110,110,110)"/><polygon points="1465.1,796.4 1463.2,788.7 1468.6,782.0 1476.8,785.0 1478.1,792.9 1472.7,798.3" fill="rgb(84,84,84)"/><polygon points="1380.2,789.6 1389.1,788.3 1394.9,794.8 1393.7,802.8 1387.3,807.6 1379.5,805.1 1377.7,797.6" fill="rgb(95,95,95)"/><polygon points="1365.3,778.5 1367.9,784.2 1364.8,789.1 1358.6,789.7 1355.6,784.0 1359.1,779.0" fill="rgb(82,82,82)"/><polygon points="1361.4,815.8 1359.1,809.6 1362.4,803.7 1368.9,803.8 1373.2,808.0 1373.9,814.8 1367.5,817.0" fill="rgb(110,110,110)"/><polygon points="1402.3,766.0 1394.5,765.0 1394.5,757.2 1398.0,751.7 1405.2,749.7 1409.7,755.9 1408.2,762.8" fill="rgb(101,101,101)"/><polygon points="1426.1,704.5 1436.3,702.6 1443.7,709.3 1439.5,717.6 1431.4,721.5 1425.5,714.4" fill="rgb(83,83,83)"/><polygon points="1459.3,721.7 1468.7,719.0 1475.7,727.5 1470.7,737.4 1460.0,738.3 1454.6,729.6" fill="rgb(115,115,115)"/><polygon points="1370.3,743.2 1362.8,744.3 1356.6,739.9 1358.5,732.9 1363.4,729.3 1370.1,729.6 1372.5,736.2" fill="rgb(101,101,101)"/><polygon points="1383.2,803.0 1390.0,808.9 1385.1,816.8 1376.8,817.5 1372.6,810.8 1374.0,801.7" fill="rgb(113,113,113)"/><polygon points="1429.1,782.8 1429.9,789.0 1424.2,792.3 1418.1,790.6 1415.5,784.6 1418.4,778.3 1425.4,777.7" fill="rgb(87,87,87)"/><polygon points="1448.1,776.9 1444.3,768.4 1452.4,762.3 1459.0,768.9 1456.9,777.3" fill="rgb(97,97,97)"/><polygon points="1497.6,833.5 1501.3,838.9 1500.0,846.0 1492.8,847.5 1487.0,843.9 1484.8,836.6 1490.9,831.8" fill="rgb(110,110,110)"/><polygon points="1418.0,814.1 1426.7,808.7 1433.6,814.8 1434.6,823.0 1427.3,827.0 1418.1,824.5" fill="rgb(78,78,78)"/><polygon points="1381.8,876.9 1372.5,871.2 1376.3,861.3 1386.3,860.8 1390.4,870.5" fill="rgb(91,91,91)"/><polygon points="1451.6,818.6 1451.1,827.5 1443.7,830.9 1436.1,827.8 1436.9,819.6 1443.5,814.3" fill="rgb(108,108,108)"/><polygon points="1362.2,827.1 1365.8,835.0 1361.7,843.4 1352.9,841.1 1347.2,833.9 1352.8,825.7" fill="rgb(71,71,71)"/><polygon points="1438.1,808.6 1431.9,813.3 1425.3,809.2 1427.7,802.1 1435.2,801.2" fill="rgb(107,107,107)"/><polygon points="1359.4,858.6 1348.5,858.5 1347.2,847.7 1355.8,843.6 1363.0,849.4" fill="rgb(87,87,87)"/><polygon points="1397.5,782.0 1403.2,784.6 1404.3,791.0 1399.8,795.9 1394.1,793.8 1389.6,789.9 1392.6,784.7" fill="rgb(86,86,86)"/><polygon points="1411.5,823.5 1418.5,828.1 1417.7,836.3 1409.1,837.4 1405.4,829.7" fill="rgb(92,92,92)"/><polygon points="1441.7,734.7 1440.1,743.3 1432.2,743.4 1427.9,737.0 1433.8,730.8" fill="rgb(114,114,114)"/><polygon points="1433.6,753.6 1438.5,749.1 1445.7,749.5 1446.4,756.6 1442.3,762.1 1435.8,759.9" fill="rgb(102,102,102)"/><polygon points="1423.8,788.0 1419.6,781.0 1422.2,774.2 1429.3,772.7 1434.5,778.3 1431.8,785.5" fill="rgb(87,87,87)"/><polygon points="1484.7,756.8 1474.6,753.4 1473.7,742.6 1484.3,739.2 1490.2,747.9" fill="rgb(80,80,80)"/><polygon points="1448.2,864.9 1448.4,855.2 1458.8,852.4 1463.4,862.0 1456.9,870.6" fill="rgb(114,114,114)"/><polygon points="1383.1,816.6 1375.2,817.1 1373.3,809.8 1378.6,804.1 1384.3,809.4" fill="rgb(115,115,115)"/><polygon points="1463.9,798.1 1453.3,798.6 1448.3,790.1 1451.5,780.7 1461.4,780.9 1468.2,788.2" fill="rgb(97,97,97)"/><polygon points="1359.9,767.4 1366.6,770.1 1366.3,777.2 1362.5,782.8 1355.5,781.9 1351.4,776.4 1353.7,769.9" fill="rgb(73,73,73)"/><polygon points="1470.9,818.7 1476.8,822.3 1477.9,830.1 1470.3,833.3 1464.0,829.0 1464.2,821.5" fill="rgb(85,85,85)"/><polygon points="1483.9,796.7 1488.7,795.1 1493.6,798.2 1493.2,804.2 1488.6,808.2 1483.2,805.7 1480.6,800.8" fill="rgb(91,91,91)"/><polygon points="1387.7,849.7 1386.0,856.2 1380.3,859.1 1375.3,854.9 1375.8,848.3 1382.1,845.5" fill="rgb(92,92,92)"/><polygon points="1483.2,788.5 1486.2,782.0 1493.4,783.1 1496.3,789.1 1493.0,795.0 1485.9,794.9" fill="rgb(102,102,102)"/><polygon points="1464.4,804.6 1472.9,802.1 1479.2,809.0 1475.9,817.5 1467.3,819.0 1462.0,812.5" fill="rgb(107,107,107)"/><polygon points="1361.5,790.5 1364.6,796.7 1361.3,802.4 1355.4,803.2 1350.5,800.1 1349.6,793.7 1354.5,788.5" fill="rgb(88,88,88)"/><polygon points="1406.6,823.3 1394.7,825.3 1388.1,815.6 1396.1,807.4 1407.3,810.8" fill="rgb(107,107,107)"/><polygon points="1362.3,805.6 1368.8,804.5 1372.7,808.9 1374.1,814.7 1369.0,818.5 1362.7,817.5 1359.8,811.7" fill="rgb(113,113,113)"/><polygon points="1380.1,845.1 1371.2,840.6 1369.7,831.2 1379.4,827.6 1384.9,835.9" fill="rgb(72,72,72)"/><polygon points="1425.0,710.7 1427.4,721.6 1417.7,726.1 1408.4,719.7 1414.1,709.4" fill="rgb(110,110,110)"/><polygon points="1408.0,719.4 1408.3,711.3 1416.1,707.1 1422.3,712.6 1423.9,719.2 1420.2,725.7 1412.8,724.7" fill="rgb(103,103,103)"/><polygon points="1365.3,815.0 1375.5,812.0 1382.3,818.8 1377.8,828.1 1367.0,826.3" fill="rgb(85,85,85)"/><polygon points="1396.3,815.0 1392.1,825.7 1380.3,824.4 1379.0,813.4 1388.0,808.0" fill="rgb(94,94,94)"/><polygon points="1455.5,727.8 1461.1,730.2 1461.7,736.1 1457.1,740.6 1450.8,737.8 1449.5,730.9" fill="rgb(95,95,95)"/><polygon points="1363.4,764.7 1367.7,761.2 1373.3,760.6 1376.9,765.5 1375.2,771.3 1369.7,772.4 1364.1,770.9" fill="rgb(74,74,74)"/><polygon points="1484.1,748.3 1479.5,746.1 1478.6,740.9 1482.3,736.7 1488.0,737.0 1492.1,741.7 1488.7,746.7" fill="rgb(89,89,89)"/><polygon points="1470.3,873.5 1463.5,865.7 1467.7,856.7 1476.4,856.4 1482.4,862.3 1480.0,871.3" fill="rgb(88,88,88)"/><polygon points="1370.6,786.5 1370.4,778.3 1375.5,772.5 1382.8,773.7 1388.4,779.3 1385.3,786.7 1378.2,789.5" fill="rgb(95,95,95)"/><polygon points="1426.1,743.5 1435.0,748.1 1433.6,759.5 1421.8,759.5 1417.9,749.4" fill="rgb(74,74,74)"/><polygon points="1447.0,828.4 1455.6,830.0 1456.8,837.6 1450.7,841.9 1444.7,836.8" fill="rgb(107,107,107)"/><polygon points="1451.1,807.5 1447.7,818.2 1435.6,816.4 1434.2,804.9 1444.1,798.6" fill="rgb(71,71,71)"/><polygon points="1488.9,816.5 1498.7,821.5 1496.9,832.4 1485.4,834.9 1482.6,824.4" fill="rgb(86,86,86)"/><polygon points="1457.5,886.4 1452.4,877.2 1457.6,868.4 1467.4,872.1 1466.9,881.8" fill="rgb(74,74,74)"/><polygon points="1354.7,801.3 1361.5,795.0 1370.6,796.1 1372.5,804.9 1367.3,812.1 1358.7,809.6" fill="rgb(79,79,79)"/><polygon points="1425.8,769.5 1420.8,761.7 1426.0,754.9 1435.7,756.2 1434.5,766.1" fill="rgb(88,88,88)"/><polygon points="1440.6,852.2 1438.6,859.9 1432.8,866.4 1424.9,862.2 1420.8,854.5 1425.8,846.9 1434.5,846.3" fill="rgb(74,74,74)"/><polygon points="1474.4,813.1 1484.6,815.0 1485.0,824.7 1476.7,830.2 1470.7,822.2" fill="rgb(102,102,102)"/><polygon points="1475.0,803.6 1470.1,798.0 1473.7,791.6 1481.0,789.8 1485.2,796.3 1481.8,802.6" fill="rgb(109,109,109)"/><polygon points="1446.6,817.9 1451.6,825.4 1446.8,833.0 1438.9,829.7 1438.6,821.6" fill="rgb(106,106,106)"/><polygon points="1453.7,781.3 1448.2,774.4 1453.3,768.4 1460.2,770.1 1462.1,778.1" fill="rgb(109,109,109)"/><polygon points="1410.1,861.7 1403.7,862.5 1397.1,859.7 1398.6,852.7 1403.1,847.3 1410.5,848.7 1413.7,855.5" fill="rgb(99,99,99)"/><polygon points="1339.9,808.4 1346.7,806.7 1349.8,813.3 1346.9,819.3 1340.2,819.2 1335.5,813.9" fill="rgb(73,73,73)"/><polygon points="1360.9,772.2 1356.5,776.4 1350.0,777.6 1347.7,771.4 1348.5,765.6 1354.3,763.5 1359.4,766.4" fill="rgb(88,88,88)"/><polygon points="1469.2,770.8 1467.0,777.1 1461.2,780.0 1456.6,775.3 1456.9,768.6 1463.8,765.5" fill="rgb(109,109,109)"/><polygon points="1372.2,733.0 1380.0,729.5 1387.4,733.5 1386.4,741.6 1379.7,745.2 1372.1,741.9" fill="rgb(81,81,81)"/><polygon points="1378.3,794.0 1375.2,787.9 1376.3,780.9 1383.7,780.7 1388.5,786.1 1384.8,791.9" fill="rgb(99,99,99)"/><polygon points="1351.1,758.1 1348.9,747.6 1357.3,742.5 1366.0,744.6 1369.7,754.3 1361.0,759.9" fill="rgb(88,88,88)"/><polygon points="1493.8,837.8 1495.0,844.4 1491.4,849.5 1484.7,851.1 1481.3,845.2 1481.2,838.6 1487.4,835.8" fill="rgb(76,76,76)"/><polygon points="1491.5,802.8 1484.2,806.2 1477.2,803.7 1473.6,796.5 1478.1,789.3 1486.5,788.5 1490.6,795.0" fill="rgb(91,91,91)"/><polygon points="1427.3,731.2 1421.1,725.1 1422.6,715.8 1431.4,713.1 1439.7,716.3 1441.8,725.3 1435.3,731.1" fill="rgb(89,89,89)"/><polygon points="1364.5,735.8 1366.5,742.1 1363.6,748.4 1356.7,748.6 1352.7,743.8 1352.8,737.6 1358.0,733.2" fill="rgb(71,71,71)"/><polygon points="1389.7,754.7 1380.6,760.4 1372.2,752.1 1378.3,742.2 1388.6,744.8" fill="rgb(70,70,70)"/><polygon points="1411.1,723.9 1418.6,719.4 1426.4,724.0 1422.3,732.0 1414.4,731.8" fill="rgb(107,107,107)"/><polygon points="1407.1,792.1 1401.2,787.5 1404.4,781.2 1411.4,781.1 1414.1,788.5" fill="rgb(82,82,82)"/><polygon points="1454.0,834.8 1448.0,843.5 1439.0,840.5 1433.3,833.2 1439.4,825.4 1448.2,827.0" fill="rgb(82,82,82)"/><polygon points="1438.6,770.8 1447.2,772.8 1451.5,781.4 1444.4,788.1 1434.7,787.0 1431.1,777.3" fill="rgb(110,110,110)"/><polygon points="1487.4,822.0 1485.0,814.4 1490.2,809.9 1496.8,812.7 1495.3,820.2" fill="rgb(95,95,95)"/><polygon points="1385.1,775.2 1392.9,776.4 1394.7,784.6 1388.9,789.9 1381.7,790.5 1378.0,784.5 1377.7,776.9" fill="rgb(104,104,104)"/><polygon points="1493.4,784.0 1493.0,793.9 1484.3,796.9 1474.6,793.6 1477.5,783.7 1485.3,778.3" fill="rgb(100,100,100)"/><polygon points="1400.9,777.9 1397.0,784.9 1388.8,787.2 1382.3,781.3 1382.2,772.1 1389.9,766.9 1397.5,770.9" fill="rgb(92,92,92)"/><polygon points="1362.3,757.7 1358.5,752.9 1360.7,747.1 1366.4,744.4 1372.2,747.6 1373.0,754.2 1367.9,757.6" fill="rgb(78,78,78)"/><polygon points="1362.3,806.1 1358.2,799.7 1362.1,793.2 1368.9,796.1 1369.5,803.1" fill="rgb(92,92,92)"/><polygon points="1448.6,750.6 1454.5,757.7 1449.3,766.2 1439.5,763.1 1440.0,753.5" fill="rgb(75,75,75)"/><polygon points="1430.3,856.8 1424.3,859.1 1418.4,856.3 1419.7,849.9 1425.0,847.1 1430.4,850.2" fill="rgb(80,80,80)"/><polygon points="1398.1,836.5 1401.6,830.1 1409.5,827.9 1414.9,834.3 1414.1,842.4 1407.3,847.9 1399.7,843.9" fill="rgb(110,110,110)"/><polygon points="1401.8,719.8 1405.9,715.2 1411.3,713.3 1415.8,717.3 1414.9,722.9 1411.1,728.0 1405.5,724.8" fill="rgb(112,112,112)"/><polygon points="1386.7,766.8 1392.8,772.8 1391.1,781.4 1382.9,782.6 1375.8,777.9 1378.6,769.5" fill="rgb(72,72,72)"/><polygon points="1390.3,821.0 1381.6,820.3 1377.6,813.9 1380.4,806.7 1388.5,805.6 1394.2,812.5" fill="rgb(73,73,73)"/><polygon points="1345.9,763.8 1341.6,760.4 1340.4,755.0 1344.2,749.9 1350.6,751.0 1353.0,756.5 1351.9,762.5" fill="rgb(82,82,82)"/><polygon points="1354.1,755.0 1363.0,755.2 1365.8,764.0 1359.6,769.4 1351.7,769.1 1349.4,761.4" fill="rgb(79,79,79)"/><polygon points="1427.9,870.6 1421.6,876.0 1413.9,871.4 1416.8,862.9 1425.3,862.8" fill="rgb(89,89,89)"/><polygon points="1457.8,808.5 1462.1,814.1 1462.5,821.4 1455.0,823.4 1449.6,818.5 1450.9,811.5" fill="rgb(87,87,87)"/><polygon points="1340.0,840.2 1331.1,831.1 1337.4,820.6 1349.7,821.8 1349.1,833.3" fill="rgb(71,71,71)"/><polygon points="1387.2,824.4 1377.7,825.6 1372.5,817.8 1375.2,808.1 1385.5,808.0 1390.0,815.8" fill="rgb(94,94,94)"/><polygon points="1350.7,753.4 1352.1,745.1 1360.8,745.0 1363.0,752.7 1357.3,758.1" fill="rgb(88,88,88)"/><polygon points="1396.5,831.0 1392.7,824.3 1393.5,816.1 1401.6,814.6 1409.6,817.0 1409.0,825.3 1404.3,830.8" fill="rgb(103,103,103)"/><polygon points="1423.4,725.7 1426.6,734.6 1419.8,742.6 1410.0,739.0 1407.5,729.4 1414.7,723.4" fill="rgb(83,83,83)"/><polygon points="1478.5,764.0 1485.8,766.0 1489.6,772.5 1487.1,780.4 1478.5,782.8 1472.3,776.9 1471.8,768.6" fill="rgb(112,112,112)"/><polygon points="1476.2,767.8 1481.3,764.7 1486.5,766.2 1488.9,770.9 1487.9,777.2 1481.3,777.7 1476.2,774.2" fill="rgb(115,115,115)"/><polygon points="1352.8,833.3 1347.4,837.9 1341.1,835.3 1338.1,829.9 1341.4,824.8 1347.2,821.8 1352.0,826.6" fill="rgb(74,74,74)"/><polygon points="1427.5,789.8 1427.7,798.3 1420.0,801.3 1415.8,795.0 1418.9,787.4" fill="rgb(78,78,78)"/><polygon points="1395.9,860.8 1396.9,869.0 1389.1,871.6 1380.4,871.3 1379.7,862.6 1383.1,855.5 1391.6,853.5" fill="rgb(71,71,71)"/><polygon points="1450.6,847.1 1444.8,854.1 1435.6,852.9 1435.5,843.0 1444.5,839.6" fill="rgb(96,96,96)"/><polygon points="1422.1,753.5 1425.7,760.0 1421.0,767.1 1414.2,762.2 1415.0,755.1" fill="rgb(86,86,86)"/><polygon points="1421.3,814.0 1413.7,808.7 1418.5,800.6 1426.5,798.7 1432.2,804.9 1429.1,812.6" fill="rgb(73,73,73)"/><polygon points="1382.4,744.0 1388.9,737.1 1397.3,738.5 1401.8,744.7 1400.1,752.1 1393.3,755.2 1385.9,752.4" fill="rgb(96,96,96)"/><polygon points="1380.1,776.9 1384.2,765.9 1395.9,766.6 1397.4,777.2 1389.3,784.1" fill="rgb(75,75,75)"/><polygon points="1400.4,865.7 1407.0,858.9 1414.3,864.9 1413.0,874.3 1403.6,873.6" fill="rgb(104,104,104)"/><polygon points="1485.3,806.0 1478.4,812.5 1469.3,809.8 1466.9,800.4 1474.2,794.6 1483.2,796.8" fill="rgb(91,91,91)"/><polygon points="1381.0,743.2 1382.6,735.4 1390.8,733.6 1396.2,739.2 1396.4,746.2 1391.0,750.6 1383.6,750.2" fill="rgb(91,91,91)"/><polygon points="1379.6,737.4 1378.8,746.7 1370.4,749.5 1363.7,742.2 1370.6,735.3" fill="rgb(85,85,85)"/><polygon points="1367.8,754.2 1361.1,747.7 1365.6,740.0 1373.9,741.2 1374.5,749.1" fill="rgb(71,71,71)"/><polygon points="1392.7,817.8 1399.7,823.6 1402.1,833.4 1392.4,838.4 1385.3,831.6 1383.7,822.4" fill="rgb(75,75,75)"/><polygon points="1419.3,869.4 1424.5,864.9 1430.4,866.2 1434.1,870.7 1432.1,876.2 1426.7,880.2 1421.6,875.6" fill="rgb(96,96,96)"/><polygon points="1446.6,751.2 1439.2,755.9 1432.5,749.7 1434.3,741.6 1441.7,738.2 1449.4,742.8" fill="rgb(114,114,114)"/><polygon points="1364.4,773.5 1358.0,778.5 1351.9,774.8 1352.0,767.0 1360.3,766.2" fill="rgb(114,114,114)"/><polygon points="1393.6,766.3 1400.3,760.2 1407.1,765.5 1404.9,772.7 1396.9,774.6" fill="rgb(76,76,76)"/><polygon points="1469.1,834.3 1473.8,839.6 1472.5,846.2 1466.9,850.1 1460.6,847.4 1456.3,840.7 1461.2,833.6" fill="rgb(77,77,77)"/><polygon points="1380.7,857.7 1390.7,859.5 1390.0,869.9 1380.5,873.6 1374.2,865.2" fill="rgb(99,99,99)"/><polygon points="1404.4,734.5 1399.2,738.6 1393.1,735.8 1393.4,729.7 1397.8,726.4 1403.8,727.9" fill="rgb(92,92,92)"/><polygon points="1437.9,723.2 1443.0,728.9 1441.3,737.3 1432.5,738.3 1427.2,731.7 1429.5,723.3" fill="rgb(82,82,82)"/><polygon points="1371.6,847.6 1376.1,851.7 1374.9,857.1 1371.1,861.1 1365.4,859.8 1363.9,854.4 1366.1,849.6" fill="rgb(100,100,100)"/><polygon points="1369.3,797.9 1368.7,789.7 1376.0,785.7 1383.2,789.6 1383.5,797.9 1376.2,801.2" fill="rgb(75,75,75)"/><polygon points="1405.6,781.1 1415.6,781.0 1419.0,790.6 1413.6,798.9 1403.4,798.0 1398.9,788.6" fill="rgb(82,82,82)"/><polygon points="1381.1,878.1 1383.2,873.1 1388.1,871.0 1392.2,874.1 1393.5,879.2 1389.5,882.6 1384.0,883.2" fill="rgb(103,103,103)"/><polygon points="1435.1,756.6 1436.8,761.1 1435.2,766.2 1429.5,767.2 1426.3,762.8 1425.2,757.3 1430.2,753.9" fill="rgb(83,83,83)"/><polygon points="1377.9,772.4 1384.0,767.9 1390.9,770.1 1393.0,777.4 1386.8,781.6 1380.5,779.3" fill="rgb(70,70,70)"/><polygon points="1503.5,773.6 1510.9,779.6 1507.0,788.1 1496.7,789.2 1495.8,778.8" fill="rgb(78,78,78)"/><polygon points="1464.3,734.2 1459.3,738.7 1454.2,734.3 1453.1,727.8 1459.2,723.7 1464.9,728.0" fill="rgb(72,72,72)"/><polygon points="1353.4,835.4 1354.5,840.5 1352.5,845.6 1346.6,846.5 1342.2,842.2 1344.3,837.0 1348.2,833.5" fill="rgb(110,110,110)"/><polygon points="1343.8,793.6 1353.0,797.1 1352.1,806.9 1343.3,808.1 1337.7,801.1" fill="rgb(99,99,99)"/><polygon points="1420.5,775.9 1414.2,776.3 1411.0,771.2 1411.8,765.7 1416.9,763.9 1421.4,765.8 1424.2,770.8" fill="rgb(70,70,70)"/><polygon points="1389.9,759.1 1396.0,763.4 1399.2,771.3 1392.2,776.5 1384.6,775.4 1379.3,769.2 1382.4,761.5" fill="rgb(82,82,82)"/><polygon points="1356.2,790.2 1357.8,783.2 1365.3,781.7 1370.4,787.0 1370.9,794.2 1364.9,798.6 1358.2,796.3" fill="rgb(104,104,104)"/><polygon points="1395.7,845.9 1393.4,837.2 1401.4,833.7 1406.9,839.1 1404.5,847.1" fill="rgb(70,70,70)"/><polygon points="1469.7,796.1 1470.9,789.0 1478.0,787.9 1485.1,790.3 1483.6,797.5 1480.0,803.5 1472.2,803.1" fill="rgb(82,82,82)"/><polygon points="1461.9,808.3 1459.9,798.9 1467.3,794.3 1473.8,799.5 1470.8,806.8" fill="rgb(96,96,96)"/><polygon points="1435.2,724.6 1440.7,727.9 1439.2,734.1 1433.3,738.0 1428.7,732.7 1429.8,726.7" fill="rgb(111,111,111)"/><polygon points="1404.3,826.7 1410.8,826.9 1413.8,832.7 1411.9,838.9 1405.8,840.3 1399.4,837.9 1399.4,830.9" fill="rgb(90,90,90)"/><polygon points="1355.3,821.7 1351.0,816.1 1353.9,809.5 1360.7,809.5 1365.0,814.7 1362.3,821.1" fill="rgb(76,76,76)"/><polygon points="1414.2,729.1 1414.1,722.6 1419.6,718.7 1425.5,721.2 1427.2,726.8 1425.7,733.2 1418.9,733.1" fill="rgb(110,110,110)"/><polygon points="1436.3,811.7 1439.0,817.7 1434.4,823.0 1428.1,820.8 1426.9,815.1 1430.1,809.7" fill="rgb(103,103,103)"/><polygon points="1499.8,836.2 1489.8,835.1 1482.8,827.9 1487.7,818.3 1498.3,817.7 1502.4,826.6" fill="rgb(70,70,70)"/><polygon points="1457.3,741.8 1450.7,736.0 1454.7,728.6 1462.7,729.5 1463.8,737.1" fill="rgb(82,82,82)"/><polygon points="1402.6,732.3 1406.8,725.3 1416.1,725.5 1418.9,734.4 1413.2,740.6 1405.6,739.3" fill="rgb(90,90,90)"/><polygon points="1395.0,824.9 1403.8,828.2 1404.6,839.1 1393.8,839.8 1386.7,831.8" fill="rgb(98,98,98)"/><polygon points="1406.6,770.6 1408.0,761.4 1417.8,759.0 1421.3,768.2 1415.2,776.7" fill="rgb(95,95,95)"/><polygon points="1429.3,832.1 1433.0,841.4 1426.1,848.9 1416.0,847.4 1413.0,837.5 1419.8,830.5" fill="rgb(105,105,105)"/><polygon points="1470.0,812.2 1468.3,804.7 1471.4,797.7 1479.0,798.2 1483.8,803.0 1482.7,809.5 1477.5,814.5" fill="rgb(84,84,84)"/><polygon points="1356.2,761.4 1346.6,759.3 1342.0,752.2 1345.0,742.6 1354.6,744.9 1361.5,751.9" fill="rgb(101,101,101)"/><polygon points="1449.9,797.5 1447.8,806.3 1438.9,806.9 1432.6,800.8 1436.8,793.6 1444.4,790.7" fill="rgb(96,96,96)"/><polygon points="1437.1,882.1 1430.0,877.8 1431.8,870.1 1438.3,866.5 1443.3,871.5 1443.1,877.9" fill="rgb(88,88,88)"/><polygon points="1416.6,768.0 1426.4,766.5 1431.0,774.1 1425.9,782.3 1417.1,777.9" fill="rgb(97,97,97)"/><polygon points="1431.7,728.9 1431.1,737.3 1424.8,743.3 1416.0,741.1 1412.8,732.8 1416.5,725.0 1424.8,724.2" fill="rgb(75,75,75)"/><polygon points="1465.8,767.5 1461.3,779.0 1450.1,776.8 1445.8,766.3 1456.2,761.5" fill="rgb(99,99,99)"/><polygon points="1477.9,760.7 1471.9,753.3 1476.2,744.5 1486.1,743.3 1490.1,751.9 1486.8,759.8" fill="rgb(80,80,80)"/><polygon points="1477.0,769.2 1477.8,776.2 1473.4,781.5 1466.6,780.7 1460.8,775.6 1463.1,767.7 1470.7,765.0" fill="rgb(71,71,71)"/><polygon points="1389.8,805.8 1384.5,804.2 1382.9,798.4 1386.7,793.5 1392.7,794.1 1395.4,798.7 1394.2,803.4" fill="rgb(111,111,111)"/><polygon points="1362.0,832.9 1362.8,840.1 1356.9,843.4 1349.6,842.0 1348.9,834.0 1355.4,830.5" fill="rgb(98,98,98)"/><polygon points="1414.1,735.2 1421.9,734.6 1426.8,741.2 1422.8,748.4 1415.1,748.3 1410.4,742.1" fill="rgb(81,81,81)"/><polygon points="1498.8,874.7 1494.3,880.3 1487.7,876.5 1489.5,869.8 1496.2,868.3" fill="rgb(108,108,108)"/><polygon points="1332.3,899.5 1335.7,894.2 1341.6,892.7 1346.5,896.8 1344.8,902.3 1340.9,905.5 1335.0,905.3" fill="rgb(93,93,93)"/><polygon points="1298.6,907.4 1302.0,912.8 1300.6,918.4 1294.4,920.8 1290.0,915.4 1292.3,909.3" fill="rgb(86,86,86)"/><polygon points="1469.7,891.0 1467.4,883.0 1475.6,879.4 1481.2,885.8 1477.3,893.0" fill="rgb(87,87,87)"/><polygon points="1287.7,942.3 1282.4,936.6 1283.8,927.6 1292.8,927.8 1299.8,933.4 1297.0,943.0" fill="rgb(103,103,103)"/><polygon points="1415.6,878.2 1409.7,878.7 1405.2,873.7 1407.2,866.7 1413.9,865.2 1418.5,869.0 1420.2,874.6" fill="rgb(83,83,83)"/><polygon points="1286.7,922.9 1288.3,932.2 1281.2,937.8 1275.0,931.7 1277.0,923.2" fill="rgb(94,94,94)"/><polygon points="1498.9,915.5 1501.4,909.4 1508.2,910.3 1511.5,916.0 1508.1,922.0 1501.4,921.2" fill="rgb(94,94,94)"/><polygon points="1351.7,909.8 1356.3,904.0 1363.3,905.9 1362.9,912.9 1356.1,916.9" fill="rgb(89,89,89)"/><polygon points="1437.7,890.8 1438.7,883.7 1445.3,880.4 1450.7,885.4 1449.9,892.2 1443.2,897.3" fill="rgb(99,99,99)"/><polygon points="1421.1,972.2 1414.9,973.4 1410.2,968.6 1411.6,962.3 1416.9,958.8 1421.8,962.3 1424.5,967.2" fill="rgb(110,110,110)"/><polygon points="1407.7,923.3 1402.0,923.1 1399.0,918.0 1399.8,911.6 1406.3,910.0 1410.9,913.8 1413.5,919.9" fill="rgb(100,100,100)"/><polygon points="1317.8,883.5 1320.2,890.3 1319.7,897.7 1312.1,900.2 1307.1,894.9 1306.5,888.8 1310.5,883.9" fill="rgb(86,86,86)"/><polygon points="1415.4,887.3 1410.3,883.4 1411.0,877.4 1415.2,873.9 1420.5,875.1 1422.6,879.8 1420.9,884.7" fill="rgb(92,92,92)"/><polygon points="1517.4,883.8 1512.5,889.1 1506.4,885.7 1505.7,879.8 1509.6,874.2 1516.2,877.1" fill="rgb(110,110,110)"/><polygon points="1425.6,911.7 1419.9,904.6 1426.6,897.9 1434.6,901.7 1433.8,910.1" fill="rgb(107,107,107)"/><polygon points="1489.5,942.4 1481.4,941.9 1478.8,935.3 1484.2,930.9 1491.0,934.1" fill="rgb(89,89,89)"/><polygon points="1326.7,907.3 1327.7,916.9 1317.6,921.2 1312.3,911.8 1317.9,903.7" fill="rgb(85,85,85)"/><polygon points="1517.9,912.2 1512.5,916.1 1506.1,914.0 1503.8,907.7 1506.9,901.4 1514.1,900.3 1519.8,905.3" fill="rgb(93,93,93)"/><polygon points="1494.9,951.9 1489.5,957.0 1482.6,955.6 1482.7,947.9 1489.6,946.8" fill="rgb(100,100,100)"/><polygon points="1517.2,878.2 1521.9,885.2 1516.3,890.8 1508.2,889.0 1509.2,880.4" fill="rgb(90,90,90)"/><polygon points="1313.1,897.2 1312.0,902.7 1308.4,907.1 1302.2,906.1 1300.7,900.3 1302.0,894.2 1308.1,894.3" fill="rgb(79,79,79)"/><polygon points="1308.2,922.1 1307.1,928.7 1303.3,934.5 1295.9,933.2 1291.7,926.7 1295.5,920.1 1302.3,917.7" fill="rgb(107,107,107)"/><polygon points="1508.8,897.1 1502.6,887.7 1508.8,879.7 1518.5,876.6 1523.0,886.0 1519.9,895.8" fill="rgb(94,94,94)"/><polygon points="1380.3,925.4 1385.7,921.4 1392.1,923.4 1393.5,929.6 1391.5,935.8 1384.6,936.6 1379.6,932.0" fill="rgb(112,112,112)"/><polygon points="1394.3,883.5 1391.7,890.9 1384.1,890.1 1378.8,884.4 1383.6,878.7 1390.0,878.2" fill="rgb(81,81,81)"/><polygon points="1445.9,936.7 1438.1,940.1 1430.4,936.4 1429.3,928.1 1433.9,920.6 1442.6,922.0 1447.5,928.4" fill="rgb(86,86,86)"/><polygon points="1254.1,890.5 1257.0,880.5 1267.0,880.1 1270.0,889.1 1263.0,895.3" fill="rgb(95,95,95)"/><polygon points="1351.9,894.6 1357.0,887.3 1365.2,890.0 1365.5,898.3 1357.5,901.4" fill="rgb(88,88,88)"/><polygon points="1282.6,892.3 1292.2,893.6 1294.7,901.8 1291.3,909.5 1281.4,910.1 1279.2,900.9" fill="rgb(87,87,87)"/><polygon points="1537.9,918.6 1538.8,924.9 1534.6,929.5 1528.2,929.6 1524.6,924.1 1525.4,917.1 1532.4,915.0" fill="rgb(70,70,70)"/><polygon points="1323.7,952.7 1317.5,951.4 1313.9,946.9 1316.0,941.7 1320.8,939.1 1326.0,941.6 1326.9,947.3" fill="rgb(99,99,99)"/><polygon points="1347.0,895.0 1353.6,889.2 1361.8,890.7 1365.9,899.0 1359.5,906.9 1350.8,903.0" fill="rgb(89,89,89)"/><polygon points="1499.7,935.0 1506.3,933.3 1511.6,935.4 1515.3,941.1 1510.7,946.4 1504.4,946.2 1498.9,942.4" fill="rgb(94,94,94)"/><polygon points="1451.4,904.4 1459.6,903.7 1461.8,911.6 1460.4,919.4 1452.5,920.5 1445.5,917.0 1445.5,909.0" fill="rgb(82,82,82)"/><polygon points="1254.0,921.7 1257.3,913.4 1266.2,912.4 1269.3,921.3 1261.8,926.3" fill="rgb(88,88,88)"/><polygon points="1512.4,913.4 1509.8,907.6 1513.5,902.9 1519.2,899.8 1523.7,904.8 1523.0,910.8 1518.6,915.1" fill="rgb(104,104,104)"/><polygon points="1453.9,915.9 1459.2,923.4 1454.4,931.1 1444.9,928.9 1444.4,918.7" fill="rgb(110,110,110)"/><polygon points="1447.1,948.1 1454.3,951.0 1454.1,958.2 1447.1,961.1 1442.3,954.7" fill="rgb(82,82,82)"/><polygon points="1456.5,962.1 1455.9,955.0 1461.7,951.8 1466.6,956.3 1464.1,963.0" fill="rgb(70,70,70)"/><polygon points="1467.7,927.2 1473.3,932.5 1472.6,940.8 1463.9,944.4 1457.0,937.7 1459.3,928.6" fill="rgb(97,97,97)"/><polygon points="1362.7,888.9 1359.0,881.6 1363.4,875.0 1370.9,875.6 1375.3,882.1 1371.0,889.2" fill="rgb(73,73,73)"/><polygon points="1379.8,968.9 1372.4,966.4 1372.9,958.8 1378.5,954.6 1385.4,957.2 1385.7,964.6" fill="rgb(90,90,90)"/><polygon points="1409.7,859.6 1411.1,853.5 1417.0,852.0 1422.0,854.6 1422.9,860.2 1419.3,864.8 1413.4,864.3" fill="rgb(85,85,85)"/><polygon points="1355.5,971.5 1344.4,975.2 1337.5,965.9 1344.6,958.0 1355.2,959.8" fill="rgb(109,109,109)"/><polygon points="1416.0,875.8 1413.6,865.8 1423.6,861.1 1430.6,869.2 1425.6,878.2" fill="rgb(112,112,112)"/><polygon points="1347.5,977.2 1340.6,970.5 1342.9,961.5 1350.5,956.6 1357.9,961.0 1362.6,968.7 1356.3,975.5" fill="rgb(72,72,72)"/><polygon points="1409.4,910.3 1403.1,910.7 1399.2,904.9 1402.9,898.2 1409.9,899.8 1413.8,905.3" fill="rgb(91,91,91)"/><polygon points="1477.4,882.6 1469.7,880.2 1469.1,872.0 1475.1,866.2 1482.4,870.2 1484.3,878.1" fill="rgb(110,110,110)"/><polygon points="1423.6,948.9 1429.3,957.6 1424.3,965.6 1414.7,968.7 1411.0,959.4 1413.2,950.2" fill="rgb(115,115,115)"/><polygon points="1321.6,864.5 1325.4,871.1 1322.0,877.5 1315.5,879.9 1310.3,875.5 1308.5,868.6 1314.3,863.9" fill="rgb(98,98,98)"/><polygon points="1371.0,881.4 1382.4,880.1 1385.1,890.8 1377.6,899.7 1366.6,892.7" fill="rgb(82,82,82)"/><polygon points="1407.3,895.5 1416.7,896.3 1420.7,903.8 1416.8,910.9 1408.8,911.0 1405.2,904.2" fill="rgb(82,82,82)"/><polygon points="1509.9,884.3 1501.6,885.8 1494.7,881.2 1495.1,873.0 1500.9,867.4 1508.7,869.4 1512.4,876.3" fill="rgb(109,109,109)"/><polygon points="1416.6,971.9 1417.5,963.5 1425.6,961.9 1428.7,968.9 1424.1,974.6" fill="rgb(84,84,84)"/><polygon points="1267.1,906.1 1264.6,898.3 1271.0,892.6 1279.7,892.9 1283.2,900.7 1280.1,907.7 1273.2,910.5" fill="rgb(105,105,105)"/><polygon points="1367.5,873.6 1371.3,869.3 1376.8,870.7 1380.7,875.2 1377.8,880.5 1372.4,883.2 1368.2,879.0" fill="rgb(76,76,76)"/><polygon points="1426.4,887.5 1430.4,884.2 1435.5,885.9 1436.8,890.8 1435.5,896.3 1429.6,896.3 1425.9,892.6" fill="rgb(98,98,98)"/><polygon points="1296.6,925.0 1291.4,919.1 1295.0,912.4 1301.3,909.9 1308.9,912.0 1309.6,920.3 1303.9,925.4" fill="rgb(80,80,80)"/><polygon points="1309.5,869.7 1307.0,863.1 1313.5,859.7 1320.0,863.9 1316.7,871.6" fill="rgb(73,73,73)"/><polygon points="1452.9,925.1 1444.7,922.0 1446.6,912.7 1455.3,912.6 1459.4,919.9" fill="rgb(112,112,112)"/><polygon points="1500.4,909.5 1494.8,903.3 1499.0,895.1 1507.3,895.4 1512.7,899.9 1514.7,907.9 1507.5,912.7" fill="rgb(96,96,96)"/><polygon points="1334.1,888.6 1328.4,882.6 1333.2,875.7 1340.6,875.6 1345.3,881.6 1341.5,888.4" fill="rgb(78,78,78)"/><polygon points="1408.4,933.1 1414.5,928.2 1422.0,930.1 1423.7,937.9 1417.9,943.2 1410.5,940.8" fill="rgb(104,104,104)"/><polygon points="1413.4,945.1 1406.1,948.0 1400.3,941.0 1406.3,933.5 1414.0,937.6" fill="rgb(113,113,113)"/><polygon points="1355.0,908.7 1352.1,898.8 1360.7,893.6 1368.9,899.3 1365.1,908.8" fill="rgb(74,74,74)"/><polygon points="1481.4,921.7 1483.7,914.7 1491.8,914.3 1492.8,922.2 1487.0,926.7" fill="rgb(104,104,104)"/><polygon points="1297.3,927.7 1290.8,925.3 1287.1,919.4 1291.2,913.9 1297.1,913.2 1303.4,915.9 1302.0,922.7" fill="rgb(74,74,74)"/><polygon points="1454.9,924.7 1450.3,920.0 1452.4,912.6 1460.3,914.7 1460.8,921.7" fill="rgb(91,91,91)"/><polygon points="1353.5,941.8 1361.0,945.6 1361.3,954.2 1355.0,959.8 1347.7,957.3 1343.6,951.4 1346.4,944.5" fill="rgb(110,110,110)"/><polygon points="1488.8,877.9 1482.9,879.2 1478.1,874.7 1480.6,868.4 1487.6,865.7 1491.0,872.3" fill="rgb(114,114,114)"/><polygon points="1323.2,890.8 1327.3,883.3 1335.7,880.9 1341.8,888.2 1338.4,897.6 1328.4,898.8" fill="rgb(81,81,81)"/><polygon points="1404.7,886.8 1411.2,882.1 1418.3,884.9 1416.9,892.9 1408.7,894.6" fill="rgb(93,93,93)"/><polygon points="1426.6,958.3 1419.7,961.6 1412.7,962.0 1408.3,955.5 1411.1,947.9 1418.7,947.1 1424.5,950.7" fill="rgb(107,107,107)"/><polygon points="1327.5,965.5 1320.7,961.4 1321.6,953.5 1329.9,952.4 1334.1,960.0" fill="rgb(99,99,99)"/><polygon points="1398.4,882.7 1391.4,883.7 1386.8,877.4 1391.1,871.0 1398.1,871.1 1402.6,876.9" fill="rgb(106,106,106)"/><polygon points="1432.8,938.4 1430.1,929.9 1436.6,925.0 1444.7,928.6 1442.1,937.7" fill="rgb(101,101,101)"/><polygon points="1324.5,875.5 1318.9,876.8 1315.7,872.5 1314.7,867.1 1319.4,863.3 1325.0,865.4 1327.8,870.7" fill="rgb(102,102,102)"/><polygon points="1258.3,919.6 1256.1,912.8 1260.6,906.1 1269.1,906.5 1273.9,913.4 1271.4,921.3 1264.0,924.4" fill="rgb(71,71,71)"/><polygon points="1316.8,889.1 1314.5,894.8 1307.9,896.7 1303.0,891.9 1302.8,884.9 1308.8,881.3 1314.2,884.1" fill="rgb(94,94,94)"/><polygon points="1279.5,896.9 1272.6,894.4 1271.3,886.4 1279.6,883.9 1283.7,890.8" fill="rgb(101,101,101)"/><polygon points="1289.5,915.3 1294.8,907.3 1304.0,910.9 1306.4,919.7 1299.9,926.0 1291.7,923.3" fill="rgb(98,98,98)"/><polygon points="1368.7,869.5 1367.0,862.4 1372.6,858.0 1379.3,858.1 1382.9,863.8 1380.4,869.6 1374.7,874.1" fill="rgb(80,80,80)"/><polygon points="1468.4,875.5 1462.1,876.5 1457.9,872.9 1455.9,867.2 1461.2,864.2 1467.2,863.4 1469.1,869.3" fill="rgb(70,70,70)"/><polygon points="1396.7,894.6 1407.7,893.2 1414.4,901.7 1407.3,911.4 1395.8,906.8" fill="rgb(78,78,78)"/><polygon points="1453.2,870.3 1459.4,864.3 1467.8,867.0 1468.1,875.0 1462.8,879.6 1456.0,877.8" fill="rgb(94,94,94)"/><polygon points="1401.3,952.0 1408.4,949.5 1413.0,954.6 1410.2,961.5 1402.1,960.2" fill="rgb(107,107,107)"/><polygon points="1383.2,914.4 1384.4,904.2 1395.3,902.6 1402.3,910.7 1397.4,919.3 1388.8,921.2" fill="rgb(85,85,85)"/><polygon points="1306.5,948.4 1311.8,939.1 1322.2,942.4 1321.8,952.5 1312.5,957.2" fill="rgb(111,111,111)"/><polygon points="1497.8,949.7 1490.5,944.7 1491.4,936.4 1498.7,931.6 1507.2,936.3 1505.1,945.3" fill="rgb(74,74,74)"/><polygon points="1408.2,921.5 1415.0,918.5 1418.7,925.1 1416.8,931.6 1409.8,933.2 1404.2,927.7" fill="rgb(95,95,95)"/><polygon points="1445.9,895.6 1440.2,888.8 1443.0,879.8 1452.5,878.7 1457.7,886.1 1453.7,893.2" fill="rgb(91,91,91)"/><polygon points="1386.7,885.6 1388.1,895.3 1379.7,900.8 1372.7,893.4 1375.8,882.7" fill="rgb(104,104,104)"/><polygon points="1321.4,914.5 1322.7,921.2 1317.9,926.9 1311.0,924.5 1307.3,919.1 1309.6,912.7 1316.2,909.5" fill="rgb(109,109,109)"/><polygon points="1437.5,904.3 1429.9,897.7 1432.8,888.5 1441.4,885.9 1448.7,891.5 1447.1,901.3" fill="rgb(78,78,78)"/><polygon points="1452.2,876.9 1447.6,883.0 1439.9,880.8 1439.0,873.5 1443.0,867.0 1451.2,869.1" fill="rgb(101,101,101)"/><polygon points="1459.0,878.0 1457.6,869.6 1463.0,863.5 1472.1,864.5 1475.3,874.1 1467.5,879.3" fill="rgb(91,91,91)"/><polygon points="1431.4,934.7 1428.4,942.7 1421.1,944.4 1416.0,939.4 1417.7,932.7 1424.5,929.3" fill="rgb(86,86,86)"/><polygon points="1354.1,947.1 1361.5,946.2 1366.2,952.3 1364.6,959.8 1357.6,962.1 1351.5,959.2 1349.7,952.5" fill="rgb(106,106,106)"/><polygon points="1433.2,954.2 1425.4,957.0 1419.6,951.2 1420.4,942.7 1428.8,940.6 1436.2,945.8" fill="rgb(74,74,74)"/><polygon points="1433.8,873.4 1438.0,864.0 1449.4,865.2 1449.8,876.5 1440.0,882.8" fill="rgb(87,87,87)"/><polygon points="1300.2,925.6 1292.9,923.7 1290.6,916.6 1296.1,912.2 1302.7,913.3 1305.5,920.1" fill="rgb(112,112,112)"/><polygon points="1281.4,873.7 1285.8,869.6 1292.4,870.2 1294.9,876.4 1291.7,881.7 1285.8,884.4 1281.1,879.7" fill="rgb(97,97,97)"/><polygon points="1454.7,898.1 1460.0,906.2 1453.7,912.4 1445.9,909.9 1445.9,901.3" fill="rgb(80,80,80)"/><polygon points="1256.4,893.1 1262.3,901.7 1258.2,911.6 1247.5,911.9 1242.1,903.3 1246.4,894.5" fill="rgb(102,102,102)"/><polygon points="1371.5,909.1 1360.8,913.2 1355.8,903.1 1362.1,895.1 1372.5,898.2" fill="rgb(109,109,109)"/><polygon points="1526.0,896.8 1517.8,895.3 1516.0,887.1 1523.6,883.7 1529.0,889.2" fill="rgb(75,75,75)"/><polygon points="1438.2,885.9 1429.5,888.8 1425.1,880.3 1430.9,872.2 1440.3,876.8" fill="rgb(115,115,115)"/><polygon points="1329.3,908.8 1338.2,912.3 1338.3,921.3 1331.9,928.1 1323.6,923.6 1323.0,915.1" fill="rgb(70,70,70)"/><polygon points="1420.7,919.9 1413.9,918.8 1411.0,911.5 1418.5,908.7 1424.0,913.5" fill="rgb(94,94,94)"/><polygon points="1439.2,936.8 1447.3,940.5 1447.6,949.4 1438.5,952.3 1434.6,944.2" fill="rgb(104,104,104)"/><polygon points="1440.7,958.4 1449.3,962.5 1447.1,972.9 1436.2,973.6 1432.7,963.6" fill="rgb(106,106,106)"/><polygon points="1389.9,855.9 1391.7,862.0 1386.8,866.0 1380.2,864.9 1379.4,858.2 1383.9,853.3" fill="rgb(80,80,80)"/><polygon points="1329.7,947.2 1326.4,951.8 1321.2,953.4 1317.8,949.4 1317.8,944.7 1321.3,940.9 1326.8,942.0" fill="rgb(90,90,90)"/><polygon points="1467.5,894.4 1464.6,904.5 1456.0,907.9 1448.9,902.4 1449.9,893.6 1458.2,889.0" fill="rgb(80,80,80)"/><polygon points="1397.4,888.1 1392.8,879.8 1396.5,871.0 1405.4,872.5 1410.7,879.0 1406.2,886.2" fill="rgb(109,109,109)"/><polygon points="1300.9,878.5 1292.2,876.5 1288.1,868.8 1291.0,860.2 1299.7,860.0 1307.3,863.4 1307.9,872.5" fill="rgb(110,110,110)"/><polygon points="1496.6,920.7 1490.7,911.5 1498.8,902.3 1510.0,908.2 1506.4,918.9" fill="rgb(102,102,102)"/><polygon points="1320.2,889.1 1323.1,896.7 1318.7,905.2 1309.2,902.4 1305.8,893.7 1312.3,888.0" fill="rgb(85,85,85)"/><polygon points="1323.7,913.6 1320.0,906.1 1324.1,899.2 1331.7,902.3 1331.5,910.0" fill="rgb(111,111,111)"/><polygon points="1292.9,933.8 1302.1,933.6 1306.8,941.6 1301.5,948.2 1293.9,948.3 1290.6,941.8" fill="rgb(112,112,112)"/><polygon points="1498.4,922.3 1504.4,924.6 1506.2,930.3 1503.2,935.2 1497.8,935.4 1493.7,932.1 1492.7,925.9" fill="rgb(100,100,100)"/><polygon points="1422.4,887.5 1429.0,888.9 1431.1,896.0 1423.8,899.8 1418.2,893.8" fill="rgb(114,114,114)"/><polygon points="1321.6,936.5 1327.2,931.6 1335.3,929.5 1339.5,937.1 1337.7,945.1 1330.0,948.1 1322.1,945.0" fill="rgb(92,92,92)"/><polygon points="1394.2,932.4 1384.5,929.8 1383.1,920.0 1392.4,915.5 1399.3,923.4" fill="rgb(89,89,89)"/><polygon points="1451.1,876.6 1458.6,879.1 1458.8,886.6 1453.9,892.3 1446.6,889.1 1446.3,882.0" fill="rgb(82,82,82)"/><polygon points="1402.1,882.0 1395.1,884.5 1389.0,880.4 1387.6,872.9 1393.4,867.8 1400.4,869.4 1404.4,875.2" fill="rgb(81,81,81)"/><polygon points="1472.3,910.1 1474.9,918.4 1467.4,923.4 1459.6,921.3 1454.6,914.6 1457.7,906.1 1466.4,905.2" fill="rgb(78,78,78)"/><polygon points="1456.2,865.2 1463.6,859.1 1470.4,865.0 1472.0,872.9 1465.0,878.2 1457.6,873.7" fill="rgb(102,102,102)"/><polygon points="1434.2,901.3 1442.2,904.3 1442.1,912.5 1434.4,915.2 1429.4,908.5" fill="rgb(76,76,76)"/><polygon points="1502.1,901.6 1510.2,900.7 1515.2,907.7 1511.9,915.1 1505.1,918.1 1499.1,914.1 1495.7,906.8" fill="rgb(79,79,79)"/><polygon points="1365.7,863.9 1363.1,872.3 1355.6,874.0 1348.7,869.8 1351.5,862.3 1358.4,859.0" fill="rgb(83,83,83)"/><polygon points="1264.9,935.0 1272.4,934.4 1273.8,941.6 1268.5,946.9 1262.0,942.0" fill="rgb(77,77,77)"/><polygon points="1506.3,878.3 1514.1,877.9 1517.3,884.6 1514.2,890.8 1506.7,891.9 1502.9,885.2" fill="rgb(89,89,89)"/><polygon points="1389.4,928.0 1387.7,935.7 1381.1,938.1 1376.1,933.9 1375.8,927.0 1382.7,923.5" fill="rgb(115,115,115)"/><polygon points="1463.1,928.1 1470.2,924.0 1476.1,929.2 1476.7,937.1 1469.1,940.2 1462.3,936.0" fill="rgb(93,93,93)"/><polygon points="1294.3,873.5 1293.0,878.8 1288.2,880.3 1282.9,879.1 1282.1,873.5 1285.1,868.4 1290.9,869.3" fill="rgb(97,97,97)"/><polygon points="1435.6,921.8 1434.7,911.7 1444.4,907.8 1451.4,916.0 1445.5,925.2" fill="rgb(91,91,91)"/><polygon points="1306.3,875.7 1310.7,869.8 1318.1,867.3 1323.7,873.3 1323.0,881.3 1316.0,883.9 1309.7,882.0" fill="rgb(100,100,100)"/><polygon points="1285.8,871.8 1293.2,867.7 1298.6,875.4 1292.7,881.9 1284.3,879.9" fill="rgb(98,98,98)"/><polygon points="1426.6,951.8 1429.1,957.4 1425.8,963.1 1418.6,962.5 1417.2,956.0 1420.1,950.0" fill="rgb(111,111,111)"/><polygon points="1401.2,957.8 1401.5,950.4 1407.0,945.2 1413.3,949.4 1413.4,956.1 1408.2,960.1" fill="rgb(102,102,102)"/><polygon points="1499.8,888.0 1505.3,889.4 1508.7,893.5 1507.8,899.3 1502.0,901.3 1496.3,898.8 1495.9,892.6" fill="rgb(90,90,90)"/><polygon points="1432.3,954.4 1428.6,945.4 1436.5,938.5 1445.9,942.2 1449.2,952.1 1440.6,957.9" fill="rgb(84,84,84)"/><polygon points="1365.1,934.0 1365.6,939.9 1362.3,945.2 1356.1,943.9 1352.2,939.3 1353.0,932.4 1359.9,929.5" fill="rgb(109,109,109)"/><polygon points="1335.5,968.5 1332.5,962.5 1335.5,956.6 1341.8,955.9 1348.0,958.8 1347.4,966.0 1342.0,970.2" fill="rgb(104,104,104)"/><polygon points="1359.7,964.2 1352.7,960.6 1353.6,953.1 1361.2,950.9 1364.2,958.0" fill="rgb(109,109,109)"/><polygon points="1512.9,891.7 1518.0,897.4 1515.4,905.0 1506.9,907.2 1500.5,900.2 1504.5,891.5" fill="rgb(101,101,101)"/><polygon points="1459.7,953.2 1467.4,948.5 1474.4,954.0 1470.8,961.8 1462.9,961.2" fill="rgb(74,74,74)"/><polygon points="1475.7,918.8 1474.1,925.9 1466.4,927.1 1462.6,919.3 1469.5,914.1" fill="rgb(115,115,115)"/><polygon points="1475.2,903.5 1479.5,906.3 1481.2,912.0 1476.0,914.9 1470.8,914.5 1467.1,909.9 1470.2,905.0" fill="rgb(96,96,96)"/><polygon points="1417.1,972.7 1411.4,970.8 1409.2,965.5 1411.1,959.5 1417.5,959.0 1422.6,962.6 1422.6,969.3" fill="rgb(109,109,109)"/><polygon points="1412.3,945.4 1406.1,952.7 1397.1,952.7 1392.4,944.5 1398.2,937.6 1406.3,938.3" fill="rgb(111,111,111)"/><polygon points="1407.6,900.3 1412.0,893.9 1419.2,892.8 1424.8,897.4 1424.7,904.9 1418.3,908.1 1411.9,906.5" fill="rgb(83,83,83)"/><polygon points="1313.9,884.1 1306.0,877.6 1309.9,866.7 1320.5,869.9 1324.0,880.2" fill="rgb(102,102,102)"/><polygon points="1473.7,859.8 1483.7,862.1 1484.8,872.0 1475.7,876.3 1470.1,868.7" fill="rgb(81,81,81)"/><polygon points="1501.7,908.6 1504.6,899.4 1514.6,899.5 1518.3,909.5 1509.1,914.9" fill="rgb(79,79,79)"/><polygon points="1395.7,931.3 1388.9,936.1 1381.1,936.6 1378.0,929.6 1378.7,921.8 1386.5,919.3 1393.2,923.2" fill="rgb(99,99,99)"/><polygon points="1298.8,906.9 1298.9,913.6 1294.9,918.9 1288.9,916.5 1284.1,912.4 1287.4,906.9 1292.6,905.0" fill="rgb(88,88,88)"/><polygon points="1289.0,925.3 1292.3,934.3 1285.1,941.2 1276.6,935.5 1278.6,925.2" fill="rgb(86,86,86)"/><polygon points="1341.8,933.6 1335.6,924.6 1343.7,915.8 1355.4,920.6 1352.3,932.4" fill="rgb(74,74,74)"/><polygon points="1304.2,962.4 1301.5,953.3 1310.6,948.7 1317.3,955.8 1312.5,963.3" fill="rgb(113,113,113)"/><polygon points="1324.5,913.7 1319.3,917.0 1313.3,916.0 1311.1,910.3 1314.5,906.0 1319.7,903.1 1323.3,907.9" fill="rgb(102,102,102)"/><polygon points="1464.3,910.1 1471.4,910.7 1476.8,916.4 1473.4,923.4 1466.7,927.3 1460.1,922.9 1459.6,915.5" fill="rgb(75,75,75)"/><polygon points="1437.0,896.0 1429.5,900.0 1423.7,893.9 1425.0,886.3 1432.2,883.0 1439.1,888.0" fill="rgb(82,82,82)"/><polygon points="1479.1,932.3 1480.9,942.1 1472.8,947.8 1463.7,941.4 1468.0,930.4" fill="rgb(102,102,102)"/><polygon points="1460.1,889.7 1465.5,883.1 1473.1,884.1 1477.4,890.7 1472.8,897.5 1464.1,897.9" fill="rgb(80,80,80)"/><polygon points="1501.7,909.9 1497.8,916.8 1489.5,916.6 1485.3,909.2 1489.4,900.7 1499.4,901.0" fill="rgb(87,87,87)"/><polygon points="1453.3,867.5 1460.9,868.1 1464.7,873.8 1461.4,879.5 1454.3,881.7 1450.1,874.9" fill="rgb(115,115,115)"/><polygon points="1449.8,864.7 1449.5,873.3 1441.4,876.0 1433.3,872.0 1435.7,863.3 1443.1,859.5" fill="rgb(86,86,86)"/><polygon points="1359.4,870.6 1358.5,878.9 1352.3,884.1 1343.6,880.9 1343.6,871.4 1351.4,867.8" fill="rgb(113,113,113)"/><polygon points="1396.2,859.2 1401.1,855.6 1408.0,855.2 1411.7,861.9 1408.5,869.1 1401.3,869.2 1394.7,866.2" fill="rgb(77,77,77)"/><polygon points="1502.5,928.0 1508.7,929.2 1510.2,935.3 1507.3,940.7 1501.5,940.4 1495.7,937.5 1498.2,931.5" fill="rgb(92,92,92)"/><polygon points="1468.0,918.0 1460.4,921.2 1453.0,916.0 1456.2,907.8 1463.4,905.5 1469.6,910.2" fill="rgb(114,114,114)"/><polygon points="1462.3,966.2 1456.8,967.5 1451.3,965.9 1450.4,959.9 1454.6,956.1 1460.2,955.7 1464.1,960.3" fill="rgb(77,77,77)"/><polygon points="1305.8,898.9 1316.9,899.3 1316.3,910.3 1307.6,915.1 1298.8,907.7" fill="rgb(102,102,102)"/><polygon points="1390.8,880.2 1394.2,875.0 1400.0,877.1 1403.8,881.2 1401.5,886.4 1396.3,889.3 1391.9,885.5" fill="rgb(112,112,112)"/><polygon points="1456.0,961.3 1449.0,967.8 1441.4,961.5 1443.4,951.4 1453.6,952.7" fill="rgb(106,106,106)"/><polygon points="1488.9,878.3 1489.1,870.9 1495.8,869.1 1502.7,869.6 1504.1,876.6 1500.5,882.0 1493.8,883.4" fill="rgb(71,71,71)"/><polygon points="1376.7,928.5 1375.0,934.8 1368.3,935.0 1363.5,929.9 1367.4,924.3 1373.3,923.8" fill="rgb(72,72,72)"/><polygon points="1409.0,951.3 1410.1,945.0 1415.9,941.9 1421.0,945.5 1423.6,951.1 1419.7,956.7 1412.8,956.8" fill="rgb(71,71,71)"/><polygon points="1355.6,957.9 1359.8,953.5 1366.6,952.1 1369.1,958.5 1367.5,964.1 1362.1,968.3 1355.6,964.8" fill="rgb(82,82,82)"/><polygon points="1508.8,926.9 1504.6,916.9 1513.7,911.8 1522.2,916.9 1519.3,927.0" fill="rgb(106,106,106)"/><polygon points="1355.3,942.0 1346.9,943.0 1343.2,935.4 1346.4,927.2 1355.8,927.1 1361.4,935.1" fill="rgb(88,88,88)"/><polygon points="1393.7,963.3 1382.8,961.8 1380.0,951.6 1389.2,945.2 1396.6,953.0" fill="rgb(98,98,98)"/><polygon points="1437.9,891.5 1446.1,891.9 1448.9,900.1 1441.4,905.5 1434.2,899.5" fill="rgb(73,73,73)"/><polygon points="1412.7,950.1 1405.5,948.5 1403.5,941.3 1408.4,935.7 1415.3,938.1 1417.6,944.7" fill="rgb(77,77,77)"/><polygon points="1530.7,897.7 1528.6,904.6 1521.0,904.9 1517.3,897.0 1525.0,892.4" fill="rgb(106,106,106)"/><polygon points="1331.1,891.2 1335.3,900.8 1327.9,907.1 1319.1,906.7 1313.7,897.9 1320.6,889.1" fill="rgb(78,78,78)"/><polygon points="1285.5,899.4 1292.3,898.3 1297.1,904.1 1293.3,910.3 1286.5,911.1 1282.9,905.5" fill="rgb(105,105,105)"/><polygon points="1465.9,880.2 1460.6,891.9 1448.9,890.1 1446.9,879.6 1455.6,874.6" fill="rgb(97,97,97)"/><polygon points="1456.1,960.4 1445.1,954.5 1447.5,942.5 1459.3,941.2 1463.2,951.4" fill="rgb(110,110,110)"/><polygon points="1264.5,912.9 1266.3,921.6 1259.8,927.4 1253.6,921.5 1255.7,914.0" fill="rgb(97,97,97)"/><polygon points="1439.5,930.3 1437.5,923.2 1442.0,917.9 1450.2,917.6 1451.3,925.7 1447.4,932.9" fill="rgb(95,95,95)"/><polygon points="1289.2,935.9 1291.6,928.0 1300.9,927.3 1302.7,936.5 1295.4,942.7" fill="rgb(76,76,76)"/><polygon points="1482.5,863.0 1489.5,867.7 1487.7,875.3 1483.7,882.0 1475.3,880.7 1472.6,873.1 1474.9,865.9" fill="rgb(110,110,110)"/><polygon points="1469.2,878.9 1464.0,875.2 1461.7,869.0 1466.8,864.8 1472.5,865.4 1476.6,869.7 1474.8,875.6" fill="rgb(76,76,76)"/><polygon points="1476.2,949.7 1483.2,947.3 1488.7,951.9 1488.9,958.5 1484.8,965.0 1477.0,963.3 1473.0,956.6" fill="rgb(115,115,115)"/><polygon points="1273.8,919.9 1281.2,928.8 1274.4,937.6 1264.9,934.5 1263.3,924.1" fill="rgb(94,94,94)"/><polygon points="1349.4,921.0 1357.3,914.4 1365.9,920.4 1362.1,929.1 1352.9,930.4" fill="rgb(75,75,75)"/><polygon points="1271.5,910.3 1275.1,917.5 1270.6,923.9 1263.0,923.6 1259.3,916.8 1263.2,909.6" fill="rgb(94,94,94)"/><polygon points="1497.0,957.2 1491.3,954.6 1491.0,948.6 1495.6,943.9 1501.1,947.5 1501.6,953.3" fill="rgb(94,94,94)"/><polygon points="1455.4,870.6 1448.7,868.5 1446.9,862.1 1449.8,856.8 1455.9,855.1 1461.9,858.9 1460.8,866.0" fill="rgb(88,88,88)"/><polygon points="1348.9,898.4 1353.5,908.0 1346.0,914.6 1336.2,915.2 1334.5,905.6 1338.4,896.4" fill="rgb(91,91,91)"/><polygon points="1401.8,926.7 1406.2,936.6 1397.0,941.7 1389.9,936.2 1392.0,927.4" fill="rgb(101,101,101)"/><polygon points="1415.9,957.4 1411.0,963.1 1402.8,963.9 1399.1,956.6 1401.0,949.3 1408.1,944.5 1414.4,950.2" fill="rgb(81,81,81)"/><polygon points="1282.9,911.0 1281.0,902.1 1285.8,894.6 1294.2,897.3 1298.2,905.1 1292.3,912.2" fill="rgb(70,70,70)"/><polygon points="1306.9,879.7 1297.9,873.5 1302.0,862.7 1314.0,862.8 1316.2,874.3" fill="rgb(83,83,83)"/><polygon points="1434.6,915.7 1440.9,910.3 1448.6,912.6 1449.6,920.2 1444.5,925.5 1437.6,922.9" fill="rgb(80,80,80)"/><polygon points="1357.8,855.6 1366.4,856.7 1372.4,862.4 1368.1,869.7 1359.6,872.2 1355.1,864.3" fill="rgb(100,100,100)"/><polygon points="1384.2,947.6 1389.9,943.6 1396.5,944.0 1400.0,949.6 1397.3,955.4 1391.5,957.8 1386.1,954.4" fill="rgb(98,98,98)"/><polygon points="1392.1,943.7 1398.2,944.8 1400.2,950.1 1398.8,955.5 1393.4,956.7 1387.6,954.5 1388.3,948.4" fill="rgb(108,108,108)"/><polygon points="1474.4,919.3 1480.3,913.9 1488.4,916.0 1487.6,925.4 1479.1,925.7" fill="rgb(90,90,90)"/><polygon points="1498.8,923.0 1503.1,915.1 1512.2,915.8 1517.1,922.6 1516.8,931.5 1508.4,934.8 1500.6,931.2" fill="rgb(92,92,92)"/><polygon points="1414.9,942.4 1423.7,934.2 1432.2,941.2 1431.5,952.0 1420.4,952.2" fill="rgb(101,101,101)"/><polygon points="1415.5,888.3 1406.5,892.9 1401.5,883.7 1407.2,875.5 1417.5,878.5" fill="rgb(85,85,85)"/><polygon points="1511.9,901.0 1505.3,901.0 1503.9,894.4 1509.5,890.1 1515.2,895.0" fill="rgb(100,100,100)"/><polygon points="1476.3,895.9 1478.3,890.5 1484.0,888.6 1489.5,891.9 1491.0,899.0 1485.2,903.8 1478.8,901.1" fill="rgb(79,79,79)"/><polygon points="1395.5,925.2 1399.4,920.0 1406.1,919.7 1409.1,926.1 1404.8,931.1 1398.3,931.5" fill="rgb(106,106,106)"/><polygon points="1467.0,947.6 1461.5,949.0 1457.3,944.8 1458.7,939.3 1463.1,936.5 1468.1,938.2 1469.8,943.2" fill="rgb(103,103,103)"/><polygon points="1351.0,948.0 1359.5,945.0 1364.9,953.4 1357.8,959.2 1350.5,956.1" fill="rgb(78,78,78)"/><polygon points="1284.0,874.1 1284.7,868.4 1289.6,865.9 1295.2,867.3 1297.6,873.1 1293.8,878.0 1287.7,878.7" fill="rgb(82,82,82)"/><polygon points="1327.5,913.6 1337.2,910.7 1341.2,920.4 1334.0,926.6 1325.5,922.7" fill="rgb(97,97,97)"/><polygon points="1253.6,933.1 1247.7,926.4 1251.3,917.4 1260.5,915.6 1268.0,920.6 1268.0,929.5 1261.6,935.3" fill="rgb(74,74,74)"/><polygon points="1586.0,832.3 1581.1,825.7 1582.4,817.7 1589.8,812.8 1598.3,816.6 1599.4,825.5 1594.4,832.2" fill="rgb(115,115,115)"/><polygon points="1554.2,853.6 1560.0,850.4 1566.2,853.3 1568.7,860.4 1563.5,866.2 1556.2,865.3 1550.8,860.1" fill="rgb(132,132,132)"/><polygon points="1601.7,805.3 1609.5,808.8 1613.5,816.5 1608.8,824.3 1599.9,824.7 1592.9,819.2 1596.1,811.2" fill="rgb(129,129,129)"/><polygon points="1596.8,838.5 1598.3,829.6 1605.8,825.7 1611.1,833.0 1606.2,840.4" fill="rgb(115,115,115)"/><polygon points="1539.0,834.8 1538.9,829.6 1541.6,824.6 1547.5,825.6 1549.6,830.4 1548.5,835.2 1543.8,836.7" fill="rgb(108,108,108)"/><polygon points="1554.9,826.6 1548.2,826.6 1543.4,823.2 1542.4,816.9 1547.4,811.8 1553.4,814.9 1557.2,819.9" fill="rgb(116,116,116)"/><polygon points="1552.8,812.6 1550.3,806.2 1554.5,800.5 1562.2,798.7 1565.4,805.7 1564.5,812.0 1558.8,815.7" fill="rgb(109,109,109)"/><polygon points="1611.2,869.9 1605.8,874.4 1598.2,873.4 1594.7,866.1 1598.6,859.1 1606.4,856.7 1611.5,862.8" fill="rgb(128,128,128)"/><polygon points="1608.9,844.3 1617.1,850.9 1614.3,861.1 1603.3,861.0 1601.5,851.1" fill="rgb(121,121,121)"/><polygon points="1566.4,842.5 1570.5,837.2 1576.6,839.6 1578.7,845.4 1574.4,850.1 1567.3,849.4" fill="rgb(110,110,110)"/><polygon points="1523.1,817.1 1523.9,807.9 1532.4,804.1 1541.1,809.2 1538.5,818.7 1530.3,823.4" fill="rgb(106,106,106)"/><polygon points="1596.8,856.7 1594.7,862.8 1588.2,863.2 1584.8,858.1 1586.5,851.9 1593.1,851.5" fill="rgb(93,93,93)"/><polygon points="1541.4,823.4 1535.5,817.3 1534.1,808.6 1542.9,804.4 1549.9,810.4 1549.7,819.3" fill="rgb(115,115,115)"/><polygon points="1560.2,816.0 1556.5,819.3 1551.5,818.9 1547.7,814.6 1550.0,809.1 1555.6,807.3 1559.8,810.9" fill="rgb(100,100,100)"/><polygon points="1577.4,843.6 1572.7,846.9 1567.5,844.7 1564.3,839.5 1567.5,833.5 1574.4,832.5 1578.0,838.0" fill="rgb(124,124,124)"/><polygon points="1620.6,829.1 1621.8,835.8 1616.7,840.9 1609.5,839.6 1606.7,833.4 1608.8,827.0 1615.3,825.6" fill="rgb(101,101,101)"/><polygon points="1577.2,821.7 1582.0,815.7 1589.9,817.7 1593.5,825.0 1589.0,831.0 1582.4,833.0 1577.3,828.4" fill="rgb(110,110,110)"/><polygon points="1542.7,875.8 1541.9,863.8 1551.7,859.2 1561.1,866.2 1554.6,876.1" fill="rgb(95,95,95)"/><polygon points="1526.8,838.2 1523.2,843.8 1517.3,847.2 1512.4,842.3 1510.5,835.3 1516.5,831.1 1523.0,832.7" fill="rgb(127,127,127)"/><polygon points="1618.0,825.5 1610.9,829.8 1604.5,824.1 1602.9,815.9 1609.3,810.0 1617.0,812.5 1621.0,818.8" fill="rgb(95,95,95)"/><polygon points="1597.8,860.0 1603.3,864.8 1602.7,872.8 1595.0,873.5 1588.1,869.8 1591.5,862.8" fill="rgb(129,129,129)"/><polygon points="1579.8,819.7 1581.4,810.6 1589.4,806.8 1597.7,809.6 1600.2,818.1 1595.1,825.3 1586.8,824.9" fill="rgb(99,99,99)"/><polygon points="1560.0,833.4 1554.5,838.3 1548.2,834.9 1549.6,828.0 1556.9,826.3" fill="rgb(123,123,123)"/><polygon points="1571.9,837.6 1567.8,832.7 1570.5,827.0 1576.5,826.3 1579.5,831.1 1577.5,836.1" fill="rgb(128,128,128)"/><polygon points="1561.9,811.5 1554.8,811.5 1548.7,808.4 1548.8,801.2 1554.3,796.9 1561.6,797.7 1565.1,804.5" fill="rgb(101,101,101)"/><polygon points="1540.6,824.8 1535.3,831.0 1528.1,828.0 1528.4,820.2 1535.9,818.6" fill="rgb(93,93,93)"/><polygon points="1606.6,859.3 1598.5,868.6 1587.3,862.3 1591.3,851.6 1601.3,849.6" fill="rgb(132,132,132)"/><polygon points="1571.1,861.2 1566.3,864.2 1561.1,861.0 1560.4,855.1 1564.3,850.7 1569.7,852.2 1573.1,856.2" fill="rgb(100,100,100)"/><polygon points="1556.8,868.1 1555.1,857.7 1565.2,853.7 1571.7,861.8 1567.5,872.5" fill="rgb(92,92,92)"/><polygon points="1562.8,827.1 1557.7,836.9 1546.9,833.5 1546.6,822.9 1556.6,817.7" fill="rgb(99,99,99)"/><polygon points="1550.0,866.2 1556.8,863.4 1563.2,867.2 1562.2,874.8 1555.5,877.3 1550.0,873.3" fill="rgb(129,129,129)"/><polygon points="1557.4,800.4 1563.3,802.0 1564.7,807.6 1563.0,813.4 1556.9,813.4 1553.0,809.7 1552.2,803.8" fill="rgb(109,109,109)"/><polygon points="1539.0,832.5 1545.8,837.2 1544.1,845.6 1535.1,845.9 1532.3,837.6" fill="rgb(95,95,95)"/><polygon points="1568.0,826.0 1576.5,825.9 1581.2,833.2 1576.6,840.3 1568.3,840.7 1563.3,833.5" fill="rgb(124,124,124)"/><polygon points="1519.7,852.5 1525.5,845.8 1532.7,850.4 1531.9,858.3 1524.0,859.6" fill="rgb(131,131,131)"/><polygon points="1577.3,813.3 1581.7,818.5 1577.2,823.5 1571.9,824.7 1566.9,821.7 1566.7,815.5 1571.3,810.4" fill="rgb(114,114,114)"/><polygon points="1591.1,828.7 1594.3,835.3 1592.2,843.0 1584.2,844.5 1577.4,840.1 1578.1,832.2 1583.7,827.4" fill="rgb(117,117,117)"/><polygon points="1534.9,821.4 1537.9,829.5 1529.7,832.7 1523.3,827.5 1526.9,819.6" fill="rgb(111,111,111)"/><polygon points="1539.3,829.2 1549.2,823.6 1556.3,831.2 1553.0,840.8 1542.5,839.8" fill="rgb(115,115,115)"/><polygon points="1620.7,853.5 1613.8,860.4 1606.7,853.2 1608.9,843.6 1619.8,843.5" fill="rgb(99,99,99)"/><polygon points="1535.9,802.5 1543.7,807.6 1545.4,816.5 1537.5,822.0 1528.6,818.1 1529.7,809.1" fill="rgb(101,101,101)"/><polygon points="1526.4,867.1 1532.8,861.3 1540.8,862.7 1542.8,870.4 1538.0,876.9 1528.5,876.6" fill="rgb(99,99,99)"/><polygon points="1560.4,839.8 1552.4,831.4 1558.3,821.3 1568.8,824.5 1568.9,834.1" fill="rgb(99,99,99)"/><polygon points="1536.7,838.5 1542.0,836.3 1546.9,838.0 1548.7,842.9 1546.0,847.4 1540.8,847.7 1536.0,844.6" fill="rgb(124,124,124)"/><polygon points="1532.2,816.1 1539.3,813.2 1545.5,815.6 1548.3,821.5 1544.7,827.2 1538.2,828.2 1533.8,823.6" fill="rgb(109,109,109)"/><polygon points="1605.2,859.4 1609.3,864.9 1607.7,872.1 1600.4,873.9 1594.2,870.4 1594.6,863.6 1598.9,859.2" fill="rgb(135,135,135)"/><polygon points="1547.1,849.9 1552.4,845.6 1560.3,845.3 1564.2,853.0 1560.1,860.0 1552.7,861.4 1546.6,857.2" fill="rgb(118,118,118)"/><polygon points="1590.5,813.5 1595.8,816.6 1595.8,822.9 1590.2,827.6 1584.0,823.1 1584.3,815.9" fill="rgb(109,109,109)"/><polygon points="1548.1,824.3 1538.8,821.5 1538.6,810.8 1549.3,808.0 1556.2,817.2" fill="rgb(110,110,110)"/><polygon points="1637.1,735.8 1630.9,740.0 1623.3,738.9 1620.9,731.8 1624.2,725.7 1630.6,725.2 1635.9,728.6" fill="rgb(129,129,129)"/><polygon points="1614.1,700.4 1606.8,701.1 1603.2,695.0 1605.7,688.5 1612.5,688.9 1616.5,693.9" fill="rgb(143,143,143)"/><polygon points="1601.9,729.1 1595.5,721.9 1598.8,713.3 1609.2,713.2 1611.8,724.3" fill="rgb(135,135,135)"/><polygon points="1629.7,716.2 1624.9,708.9 1630.0,702.9 1637.2,704.8 1637.1,712.3" fill="rgb(138,138,138)"/><polygon points="1630.0,721.5 1623.7,723.0 1617.5,721.8 1617.2,715.5 1620.4,711.0 1626.1,710.5 1630.6,714.8" fill="rgb(144,144,144)"/><polygon points="1599.1,720.8 1589.9,719.5 1587.5,711.2 1591.5,703.0 1600.2,705.8 1604.4,713.2" fill="rgb(139,139,139)"/><polygon points="1599.8,724.8 1592.7,729.8 1585.4,728.0 1582.4,720.6 1588.2,714.6 1597.0,715.8" fill="rgb(123,123,123)"/><polygon points="1613.3,729.8 1618.6,733.0 1617.9,738.9 1614.0,742.4 1608.9,741.6 1606.7,737.2 1607.4,731.6" fill="rgb(143,143,143)"/><polygon points="1628.9,724.9 1620.7,728.1 1614.8,721.0 1617.4,712.3 1626.2,711.0 1631.5,717.4" fill="rgb(144,144,144)"/><polygon points="1593.4,735.2 1597.1,727.0 1606.6,726.6 1607.1,735.6 1600.6,741.6" fill="rgb(144,144,144)"/><polygon points="1628.5,739.1 1623.5,736.8 1623.2,730.8 1628.1,728.0 1633.5,728.2 1636.1,733.3 1633.4,738.0" fill="rgb(146,146,146)"/><polygon points="1569.6,718.8 1580.0,718.6 1581.4,728.4 1573.9,735.3 1565.2,728.4" fill="rgb(127,127,127)"/><polygon points="1580.8,714.5 1573.9,721.2 1564.6,719.9 1564.0,709.3 1574.4,705.6" fill="rgb(149,149,149)"/><polygon points="1598.7,731.9 1607.5,730.1 1612.0,737.7 1606.4,745.5 1597.4,741.2" fill="rgb(149,149,149)"/><polygon points="1592.9,738.6 1585.2,737.2 1580.5,732.2 1580.4,724.4 1587.7,721.9 1595.2,723.7 1598.1,731.7" fill="rgb(143,143,143)"/><polygon points="1583.3,705.9 1589.2,710.3 1588.6,718.3 1580.9,720.2 1575.5,715.4 1576.3,708.1" fill="rgb(126,126,126)"/><polygon points="1591.3,903.6 1594.7,910.5 1589.5,916.1 1582.6,914.7 1580.6,908.4 1584.3,903.1" fill="rgb(86,86,86)"/><polygon points="1540.9,921.3 1539.1,931.6 1529.2,932.1 1525.8,923.7 1532.0,917.7" fill="rgb(108,108,108)"/><polygon points="1610.2,982.0 1616.5,977.7 1623.9,981.8 1623.6,989.9 1618.4,995.3 1610.9,994.6 1606.1,988.3" fill="rgb(106,106,106)"/><polygon points="1631.8,982.8 1632.5,973.7 1642.4,969.4 1648.8,979.7 1640.6,988.6" fill="rgb(88,88,88)"/><polygon points="1519.8,975.4 1513.7,971.7 1513.9,964.7 1518.7,959.7 1524.9,962.1 1527.8,967.2 1526.2,973.3" fill="rgb(80,80,80)"/><polygon points="1499.9,932.6 1498.1,938.6 1492.0,941.0 1487.2,936.9 1486.0,931.0 1490.3,926.3 1496.3,927.8" fill="rgb(90,90,90)"/><polygon points="1443.1,960.9 1449.2,951.3 1458.6,957.0 1459.9,967.9 1449.0,968.8" fill="rgb(114,114,114)"/><polygon points="1619.1,931.8 1626.3,939.9 1624.3,950.3 1613.9,953.1 1607.3,945.4 1608.5,935.2" fill="rgb(115,115,115)"/><polygon points="1571.3,937.6 1564.6,932.4 1566.2,923.2 1575.1,922.2 1581.8,927.4 1579.6,936.1" fill="rgb(110,110,110)"/><polygon points="1511.9,934.5 1515.2,940.1 1512.5,946.1 1505.5,946.8 1501.6,940.7 1505.0,934.4" fill="rgb(108,108,108)"/><polygon points="1554.6,919.8 1548.8,919.6 1545.5,914.6 1548.0,909.3 1553.3,907.5 1557.5,910.7 1559.0,916.2" fill="rgb(105,105,105)"/><polygon points="1511.3,1023.2 1515.8,1020.5 1521.4,1020.8 1523.9,1026.3 1521.1,1031.5 1515.3,1032.5 1511.2,1028.7" fill="rgb(102,102,102)"/><polygon points="1566.1,982.0 1567.3,974.3 1574.8,973.4 1581.3,977.5 1579.3,985.6 1571.5,987.1" fill="rgb(97,97,97)"/><polygon points="1538.5,970.8 1538.3,976.4 1533.2,978.8 1528.4,976.7 1526.1,971.7 1529.2,966.5 1534.8,967.2" fill="rgb(103,103,103)"/><polygon points="1593.7,1015.3 1589.6,1004.5 1600.5,999.9 1610.5,1006.7 1604.9,1018.5" fill="rgb(87,87,87)"/><polygon points="1460.9,935.0 1459.9,926.7 1466.5,920.5 1473.8,925.4 1476.1,933.7 1468.7,939.7" fill="rgb(96,96,96)"/><polygon points="1515.8,909.9 1511.2,904.4 1511.8,897.5 1518.9,895.5 1524.4,900.2 1523.1,907.7" fill="rgb(115,115,115)"/><polygon points="1496.2,957.9 1504.8,962.5 1504.7,973.3 1493.9,973.3 1488.9,964.8" fill="rgb(90,90,90)"/><polygon points="1570.3,961.8 1570.9,955.3 1577.0,953.2 1582.3,955.7 1584.5,961.4 1581.0,967.2 1573.7,968.1" fill="rgb(79,79,79)"/><polygon points="1556.7,979.8 1560.1,986.6 1556.2,994.0 1549.0,989.5 1548.1,981.2" fill="rgb(94,94,94)"/><polygon points="1520.4,941.4 1527.9,941.4 1529.4,948.7 1523.4,953.3 1517.3,948.2" fill="rgb(83,83,83)"/><polygon points="1466.2,965.2 1471.1,971.8 1465.9,978.1 1458.7,981.0 1450.9,976.3 1452.4,967.5 1458.9,962.5" fill="rgb(120,120,120)"/><polygon points="1496.4,960.8 1501.2,969.3 1495.2,977.1 1484.8,973.8 1485.6,962.3" fill="rgb(112,112,112)"/><polygon points="1628.2,960.4 1627.4,951.5 1635.8,946.1 1644.5,951.7 1644.6,962.2 1635.3,964.5" fill="rgb(112,112,112)"/><polygon points="1610.2,1020.7 1603.7,1020.3 1599.9,1014.5 1604.1,1008.6 1611.5,1008.6 1613.8,1015.3" fill="rgb(96,96,96)"/><polygon points="1579.3,905.9 1577.1,896.0 1585.9,891.3 1593.4,897.8 1588.9,906.4" fill="rgb(117,117,117)"/><polygon points="1605.1,1031.4 1596.9,1033.4 1594.0,1024.9 1600.6,1020.3 1607.3,1024.1" fill="rgb(85,85,85)"/><polygon points="1520.1,1019.1 1515.9,1013.9 1519.7,1008.5 1525.3,1006.1 1529.5,1010.4 1529.8,1015.7 1525.8,1019.4" fill="rgb(79,79,79)"/><polygon points="1505.9,1014.5 1502.7,1019.8 1496.2,1021.5 1491.1,1016.5 1493.1,1010.2 1497.9,1006.4 1504.0,1008.6" fill="rgb(115,115,115)"/><polygon points="1622.4,915.1 1616.4,919.3 1609.0,917.8 1607.0,909.8 1613.6,905.4 1620.1,908.1" fill="rgb(119,119,119)"/><polygon points="1612.1,944.5 1610.0,952.4 1602.0,951.4 1598.4,943.9 1605.9,939.8" fill="rgb(86,86,86)"/><polygon points="1611.5,947.9 1614.4,941.0 1622.2,942.1 1624.3,950.3 1616.3,954.4" fill="rgb(104,104,104)"/><polygon points="1519.1,1014.2 1529.1,1019.5 1525.8,1029.7 1515.5,1031.7 1509.5,1021.3" fill="rgb(79,79,79)"/><polygon points="1523.3,946.6 1522.8,956.4 1512.9,958.4 1505.9,949.4 1514.4,941.0" fill="rgb(107,107,107)"/><polygon points="1578.8,897.8 1588.7,894.9 1595.0,902.0 1589.8,909.9 1580.6,908.0" fill="rgb(84,84,84)"/><polygon points="1540.2,1028.8 1545.9,1025.1 1551.6,1028.9 1552.8,1036.1 1545.9,1039.9 1540.5,1035.2" fill="rgb(87,87,87)"/><polygon points="1586.2,921.1 1582.2,925.6 1576.1,925.5 1572.9,920.5 1574.7,915.3 1579.6,912.8 1584.7,915.3" fill="rgb(88,88,88)"/><polygon points="1513.2,1016.7 1519.0,1019.8 1520.8,1025.9 1516.8,1030.9 1510.7,1030.9 1506.5,1026.4 1506.8,1019.5" fill="rgb(81,81,81)"/><polygon points="1457.0,943.9 1454.2,938.5 1457.3,933.1 1463.0,933.6 1467.2,936.6 1467.7,942.4 1462.4,944.3" fill="rgb(122,122,122)"/><polygon points="1612.5,1000.6 1619.5,1010.6 1611.5,1019.4 1600.3,1016.0 1600.6,1003.6" fill="rgb(90,90,90)"/><polygon points="1528.4,1036.0 1521.5,1026.8 1529.7,1019.6 1538.2,1023.3 1539.8,1034.0" fill="rgb(113,113,113)"/><polygon points="1518.6,960.0 1514.0,969.1 1504.9,968.2 1501.9,959.3 1510.2,954.9" fill="rgb(93,93,93)"/><polygon points="1533.7,1026.0 1532.4,1034.8 1525.1,1040.4 1517.1,1034.9 1517.2,1025.3 1525.7,1022.1" fill="rgb(90,90,90)"/><polygon points="1583.2,1014.2 1574.2,1013.6 1570.4,1005.4 1574.6,998.4 1581.9,994.9 1587.7,1000.6 1590.1,1008.7" fill="rgb(86,86,86)"/><polygon points="1473.3,978.1 1477.0,985.3 1473.2,991.9 1465.9,992.0 1461.4,985.9 1464.5,977.9" fill="rgb(94,94,94)"/><polygon points="1580.8,914.4 1576.2,910.8 1575.3,904.5 1580.9,901.4 1587.1,902.0 1589.6,908.0 1586.3,913.0" fill="rgb(95,95,95)"/><polygon points="1544.8,1028.1 1553.2,1026.4 1557.0,1033.0 1556.3,1040.5 1548.5,1041.6 1542.8,1036.3" fill="rgb(77,77,77)"/><polygon points="1481.5,1014.9 1489.5,1011.0 1496.1,1017.9 1491.0,1026.5 1480.4,1025.0" fill="rgb(120,120,120)"/><polygon points="1557.7,925.4 1563.5,928.2 1563.7,934.4 1560.5,940.2 1554.0,938.7 1549.9,933.9 1552.3,928.1" fill="rgb(96,96,96)"/><polygon points="1571.0,924.9 1573.7,920.0 1578.5,918.6 1583.3,921.0 1584.0,926.6 1579.8,930.5 1574.0,929.9" fill="rgb(85,85,85)"/><polygon points="1477.8,972.5 1471.6,973.6 1465.2,971.3 1466.3,964.6 1470.1,959.5 1476.4,961.0 1478.9,966.3" fill="rgb(90,90,90)"/><polygon points="1643.4,977.4 1636.6,978.2 1633.4,971.7 1637.6,966.6 1643.5,966.9 1647.3,972.1" fill="rgb(112,112,112)"/><polygon points="1457.5,981.2 1459.8,986.1 1458.0,991.6 1452.1,992.8 1447.2,989.3 1448.0,983.5 1451.9,978.7" fill="rgb(95,95,95)"/><polygon points="1563.7,1033.7 1560.6,1025.9 1563.5,1018.5 1572.4,1017.2 1575.7,1025.3 1572.5,1032.8" fill="rgb(92,92,92)"/><polygon points="1497.2,985.7 1498.0,979.9 1503.3,977.3 1508.5,979.6 1510.4,985.1 1507.1,990.3 1500.9,990.4" fill="rgb(89,89,89)"/><polygon points="1487.6,1021.1 1481.3,1026.4 1473.9,1027.8 1468.6,1021.8 1470.5,1014.3 1477.0,1010.9 1483.6,1013.9" fill="rgb(114,114,114)"/><polygon points="1496.0,992.8 1492.6,988.4 1493.6,982.3 1499.7,979.9 1503.9,984.1 1506.4,989.6 1501.3,993.0" fill="rgb(112,112,112)"/><polygon points="1601.8,968.6 1597.1,962.1 1599.4,955.0 1606.6,953.4 1612.6,958.6 1609.4,965.9" fill="rgb(81,81,81)"/><polygon points="1636.9,967.3 1630.3,964.2 1632.4,957.2 1638.5,953.4 1645.0,957.8 1643.2,965.3" fill="rgb(85,85,85)"/><polygon points="1504.1,1022.0 1498.4,1016.5 1502.6,1009.4 1510.4,1008.7 1513.6,1015.2 1511.4,1022.1" fill="rgb(120,120,120)"/><polygon points="1536.9,992.5 1538.0,982.5 1548.8,980.1 1553.9,990.5 1545.6,997.8" fill="rgb(91,91,91)"/><polygon points="1551.5,986.8 1557.8,978.2 1567.8,978.7 1570.5,989.6 1560.2,993.6" fill="rgb(87,87,87)"/><polygon points="1629.1,995.8 1624.7,1001.3 1617.5,1001.0 1613.7,994.0 1618.4,986.8 1626.6,988.6" fill="rgb(114,114,114)"/><polygon points="1526.8,1026.8 1533.3,1020.7 1541.7,1024.8 1542.1,1033.7 1535.1,1038.6 1526.0,1036.1" fill="rgb(107,107,107)"/><polygon points="1462.6,941.0 1467.8,937.1 1474.4,938.7 1477.4,945.1 1473.8,951.4 1466.9,951.8 1460.5,948.1" fill="rgb(90,90,90)"/><polygon points="1576.4,925.9 1581.9,916.3 1592.0,917.7 1594.9,927.9 1585.0,933.9" fill="rgb(117,117,117)"/><polygon points="1489.4,1003.7 1486.0,998.1 1491.3,993.9 1497.6,994.9 1499.7,1001.3 1495.2,1006.8" fill="rgb(84,84,84)"/><polygon points="1495.8,987.0 1499.3,992.7 1495.1,998.7 1487.9,995.6 1488.9,988.2" fill="rgb(91,91,91)"/><polygon points="1601.0,1014.7 1596.9,1007.5 1599.8,999.6 1608.1,1000.3 1612.9,1006.5 1610.1,1015.1" fill="rgb(90,90,90)"/><polygon points="1599.0,947.6 1592.3,953.3 1585.2,948.3 1586.0,938.7 1596.5,938.4" fill="rgb(98,98,98)"/><polygon points="1544.7,987.9 1539.3,985.8 1538.2,979.6 1542.9,976.1 1548.9,975.2 1551.5,980.8 1551.0,987.1" fill="rgb(77,77,77)"/><polygon points="1580.4,918.0 1569.7,914.2 1573.2,903.6 1583.2,901.0 1588.6,910.8" fill="rgb(97,97,97)"/><polygon points="1506.8,1010.8 1494.8,1012.5 1490.4,1001.7 1498.5,994.9 1506.9,999.9" fill="rgb(108,108,108)"/><polygon points="1527.6,965.0 1534.2,960.9 1541.1,964.4 1538.1,971.4 1530.6,972.6" fill="rgb(105,105,105)"/><polygon points="1511.9,928.1 1510.3,938.1 1500.3,937.8 1496.5,929.2 1503.8,923.5" fill="rgb(113,113,113)"/><polygon points="1615.8,929.2 1609.2,924.2 1611.4,916.6 1617.0,913.0 1623.5,914.6 1626.5,920.8 1622.6,926.4" fill="rgb(82,82,82)"/><polygon points="1487.8,919.5 1488.5,926.7 1484.1,932.0 1477.2,931.7 1472.6,926.3 1473.8,918.7 1481.1,916.3" fill="rgb(81,81,81)"/><polygon points="1530.5,990.2 1530.7,998.3 1526.4,1003.9 1518.9,1004.9 1514.3,998.7 1515.0,990.7 1522.6,986.8" fill="rgb(105,105,105)"/><polygon points="1519.7,949.8 1522.9,954.8 1519.5,960.4 1513.4,958.6 1509.6,953.5 1514.0,948.3" fill="rgb(119,119,119)"/><polygon points="1644.5,967.5 1636.3,969.4 1630.8,963.4 1631.7,956.3 1636.8,950.6 1644.3,953.1 1647.0,960.0" fill="rgb(100,100,100)"/><polygon points="1546.1,961.9 1541.1,968.4 1532.8,966.2 1528.2,958.9 1532.7,951.9 1540.1,950.1 1545.8,954.7" fill="rgb(118,118,118)"/><polygon points="1632.6,965.6 1629.5,957.9 1636.1,952.7 1643.6,955.1 1646.4,963.0 1640.0,969.0" fill="rgb(84,84,84)"/><polygon points="1586.2,951.4 1586.8,942.8 1595.5,941.7 1600.3,949.2 1593.6,954.9" fill="rgb(94,94,94)"/><polygon points="1569.8,947.3 1562.0,943.1 1562.5,933.9 1570.5,930.9 1576.8,935.4 1578.6,944.2" fill="rgb(115,115,115)"/><polygon points="1590.4,906.0 1586.4,912.0 1578.8,912.5 1574.5,906.4 1576.4,899.7 1582.4,896.8 1588.3,899.6" fill="rgb(103,103,103)"/><polygon points="1509.4,952.4 1515.8,958.9 1512.3,968.2 1501.4,967.0 1501.4,956.7" fill="rgb(86,86,86)"/><polygon points="1571.6,947.2 1567.5,953.1 1560.6,953.8 1554.7,949.4 1555.8,941.9 1562.1,938.1 1568.5,940.8" fill="rgb(103,103,103)"/><polygon points="1643.8,997.5 1642.4,1005.5 1636.9,1010.8 1628.9,1009.6 1626.3,1002.0 1629.0,994.8 1636.5,994.2" fill="rgb(115,115,115)"/><polygon points="1578.6,932.3 1575.5,927.2 1577.9,921.4 1584.6,920.9 1588.0,926.7 1585.2,932.9" fill="rgb(95,95,95)"/><polygon points="1547.6,1020.0 1541.1,1013.1 1545.8,1003.9 1555.2,1005.3 1562.0,1012.1 1556.2,1020.2" fill="rgb(120,120,120)"/><polygon points="1527.5,968.8 1536.7,963.7 1545.1,970.6 1540.9,981.7 1530.0,978.8" fill="rgb(81,81,81)"/><polygon points="1505.3,991.6 1501.8,983.4 1508.1,977.2 1516.9,981.0 1514.0,989.9" fill="rgb(117,117,117)"/><polygon points="1518.3,939.4 1526.3,938.7 1531.5,944.1 1533.2,952.6 1525.1,955.8 1517.9,953.6 1514.3,946.6" fill="rgb(78,78,78)"/><polygon points="1522.8,998.0 1527.2,991.2 1534.9,993.0 1535.4,1000.8 1528.4,1003.5" fill="rgb(121,121,121)"/><polygon points="1629.2,936.1 1623.2,934.2 1619.0,929.2 1623.0,924.0 1628.5,921.2 1634.1,925.0 1634.1,931.7" fill="rgb(107,107,107)"/><polygon points="1514.0,978.3 1522.8,976.8 1528.6,984.2 1526.4,993.1 1518.3,995.4 1511.8,991.9 1508.7,984.6" fill="rgb(110,110,110)"/><polygon points="1556.4,967.8 1565.1,975.2 1560.8,985.5 1549.7,985.1 1546.9,974.2" fill="rgb(90,90,90)"/><polygon points="1572.6,1005.9 1576.4,1014.0 1574.8,1022.7 1566.0,1024.5 1559.9,1019.7 1558.4,1012.3 1563.3,1005.0" fill="rgb(107,107,107)"/><polygon points="1496.1,986.6 1502.5,992.7 1503.6,1000.2 1498.9,1006.6 1491.2,1005.0 1486.7,999.0 1489.2,992.0" fill="rgb(90,90,90)"/><polygon points="1552.2,913.4 1546.4,918.1 1540.1,915.0 1537.7,909.2 1540.4,903.5 1547.1,901.1 1551.0,906.8" fill="rgb(78,78,78)"/><polygon points="1600.2,1025.8 1596.9,1032.2 1589.5,1031.4 1588.3,1023.8 1595.4,1018.6" fill="rgb(87,87,87)"/><polygon points="1506.0,1021.0 1507.8,1028.5 1502.4,1033.5 1495.5,1033.2 1492.1,1027.6 1492.5,1020.7 1499.2,1019.6" fill="rgb(94,94,94)"/><polygon points="1471.9,938.1 1477.0,944.5 1473.0,951.3 1465.7,952.3 1461.1,946.2 1464.5,939.6" fill="rgb(89,89,89)"/><polygon points="1559.3,930.2 1553.7,923.4 1556.6,915.9 1563.0,911.9 1570.9,914.3 1573.4,922.7 1567.9,929.4" fill="rgb(114,114,114)"/><polygon points="1501.3,938.6 1508.8,934.5 1517.1,939.8 1514.5,949.2 1505.9,953.5 1499.3,946.7" fill="rgb(91,91,91)"/><polygon points="1580.7,1015.2 1576.9,1005.6 1585.3,1000.0 1592.6,1005.6 1590.3,1014.3" fill="rgb(97,97,97)"/><polygon points="1533.7,915.7 1533.5,906.1 1542.5,904.5 1547.9,911.3 1542.5,918.7" fill="rgb(97,97,97)"/><polygon points="1577.0,1041.6 1571.8,1036.9 1574.9,1030.4 1581.4,1029.8 1585.6,1034.5 1583.3,1040.5" fill="rgb(108,108,108)"/><polygon points="1466.1,944.2 1456.5,940.0 1457.3,929.8 1466.5,928.9 1473.4,936.0" fill="rgb(111,111,111)"/><polygon points="1634.2,993.0 1626.2,994.3 1620.2,988.6 1623.2,980.8 1631.2,978.8 1636.3,985.2" fill="rgb(79,79,79)"/><polygon points="1602.8,914.7 1599.7,920.9 1592.2,921.4 1587.7,914.6 1592.3,908.1 1600.0,907.9" fill="rgb(108,108,108)"/><polygon points="1556.4,1018.0 1561.9,1012.5 1568.9,1016.2 1570.4,1023.8 1564.2,1030.2 1556.7,1025.6" fill="rgb(105,105,105)"/><polygon points="1551.8,969.4 1559.0,975.7 1561.2,984.9 1552.4,990.0 1544.6,984.5 1543.0,975.0" fill="rgb(112,112,112)"/><polygon points="1593.0,983.1 1603.6,981.2 1606.6,991.2 1599.7,998.9 1591.5,992.7" fill="rgb(114,114,114)"/><polygon points="1517.8,989.5 1508.8,990.1 1505.6,981.7 1510.1,974.7 1518.8,974.3 1522.0,982.4" fill="rgb(105,105,105)"/><polygon points="1642.6,962.8 1646.3,974.2 1638.2,981.8 1628.1,976.4 1630.0,964.4" fill="rgb(99,99,99)"/><polygon points="1576.8,986.1 1582.2,992.3 1581.4,1000.2 1574.7,1005.1 1568.3,1000.6 1565.9,994.5 1568.6,987.6" fill="rgb(92,92,92)"/><polygon points="1635.7,961.9 1627.6,963.7 1622.2,957.0 1623.1,948.4 1630.9,945.6 1638.9,947.6 1639.5,955.6" fill="rgb(104,104,104)"/><polygon points="1550.5,1015.5 1545.6,1006.7 1547.5,997.7 1557.4,994.6 1562.6,1003.2 1561.1,1013.1" fill="rgb(108,108,108)"/><polygon points="1625.6,944.6 1623.6,951.5 1618.5,955.9 1611.0,954.5 1608.3,947.1 1613.0,941.4 1619.8,940.0" fill="rgb(79,79,79)"/><polygon points="1576.5,917.8 1571.4,912.5 1570.7,905.3 1576.8,901.6 1584.0,902.2 1585.7,909.1 1584.2,916.3" fill="rgb(110,110,110)"/><polygon points="1590.2,984.9 1594.2,992.7 1588.5,998.6 1580.5,999.6 1578.4,991.7 1582.4,986.3" fill="rgb(92,92,92)"/><polygon points="1632.9,970.5 1642.2,972.5 1644.1,981.8 1637.2,986.7 1628.4,986.2 1626.3,976.9" fill="rgb(94,94,94)"/><polygon points="1620.0,1002.5 1614.8,1008.7 1607.1,1006.3 1602.3,999.9 1606.1,992.8 1613.3,990.9 1620.1,994.7" fill="rgb(81,81,81)"/><polygon points="1519.4,964.7 1527.4,971.6 1526.8,982.3 1516.8,984.0 1507.8,979.7 1510.8,970.1" fill="rgb(103,103,103)"/><polygon points="1547.1,977.2 1543.2,984.7 1534.9,982.2 1534.0,973.5 1542.0,971.4" fill="rgb(91,91,91)"/><polygon points="1533.0,934.8 1539.6,924.9 1551.8,925.6 1552.9,938.2 1542.1,942.6" fill="rgb(121,121,121)"/><polygon points="1555.5,1016.2 1553.9,1007.3 1562.7,1004.0 1567.6,1010.9 1564.1,1019.2" fill="rgb(89,89,89)"/><polygon points="1498.9,924.4 1506.3,922.7 1511.9,928.8 1508.9,936.8 1501.0,936.6 1496.0,931.3" fill="rgb(122,122,122)"/><polygon points="1493.9,936.8 1500.7,939.7 1503.3,946.6 1499.5,953.4 1491.5,954.1 1487.5,947.8 1488.5,941.4" fill="rgb(117,117,117)"/><polygon points="1514.9,972.6 1507.2,970.2 1506.0,962.5 1509.4,955.9 1517.5,954.1 1522.9,960.6 1522.8,969.2" fill="rgb(87,87,87)"/><polygon points="1596.5,927.7 1594.3,920.7 1600.6,916.5 1607.1,918.3 1610.3,923.9 1608.0,930.1 1601.5,931.6" fill="rgb(114,114,114)"/><polygon points="1607.4,940.8 1608.0,946.9 1604.9,952.3 1599.0,950.9 1593.9,947.3 1595.9,941.1 1601.5,937.6" fill="rgb(115,115,115)"/><polygon points="1543.1,939.2 1550.7,935.4 1557.8,939.2 1558.7,946.4 1555.4,952.9 1547.9,952.8 1543.6,947.1" fill="rgb(111,111,111)"/><polygon points="1555.7,929.7 1562.1,924.4 1568.9,928.6 1573.0,935.0 1568.3,941.2 1561.0,942.4 1553.9,938.0" fill="rgb(115,115,115)"/><polygon points="1468.3,928.2 1473.4,936.6 1469.0,944.7 1460.5,944.3 1455.7,937.8 1458.3,929.0" fill="rgb(106,106,106)"/><polygon points="1560.0,901.8 1567.4,905.5 1567.6,912.4 1560.7,915.9 1556.7,909.3" fill="rgb(114,114,114)"/><polygon points="1497.9,953.3 1491.5,958.9 1484.1,956.4 1480.0,948.5 1487.1,942.3 1495.3,945.2" fill="rgb(106,106,106)"/><polygon points="1520.8,1028.0 1516.0,1022.7 1519.5,1016.2 1526.1,1014.7 1532.6,1017.9 1531.7,1025.0 1526.8,1029.0" fill="rgb(105,105,105)"/><polygon points="1555.4,935.6 1555.6,942.3 1551.1,947.3 1544.9,944.4 1543.6,937.9 1548.9,934.9" fill="rgb(98,98,98)"/><polygon points="1460.3,969.1 1468.5,961.3 1478.4,966.2 1478.1,978.2 1466.3,978.4" fill="rgb(79,79,79)"/><polygon points="1561.4,962.3 1557.0,966.4 1551.1,965.4 1547.7,960.3 1549.6,954.1 1555.9,953.3 1561.1,956.2" fill="rgb(113,113,113)"/><polygon points="1529.2,1032.9 1520.8,1033.7 1516.9,1026.9 1518.0,1020.1 1523.8,1015.3 1531.5,1018.0 1532.8,1025.8" fill="rgb(117,117,117)"/><polygon points="1549.5,973.3 1537.3,974.6 1533.8,962.0 1544.3,955.7 1554.6,962.4" fill="rgb(119,119,119)"/><polygon points="1575.9,998.6 1582.1,990.5 1591.2,994.4 1590.8,1003.7 1581.5,1007.5" fill="rgb(100,100,100)"/><polygon points="1573.5,1009.8 1564.7,1009.4 1557.1,1005.0 1559.0,996.2 1565.6,990.5 1572.9,994.6 1575.5,1001.4" fill="rgb(106,106,106)"/><polygon points="1516.0,1033.2 1507.3,1026.6 1512.1,1017.1 1522.5,1017.1 1524.7,1027.4" fill="rgb(112,112,112)"/><polygon points="1467.1,967.8 1458.7,968.9 1455.9,961.1 1458.6,952.9 1468.0,953.1 1472.8,961.2" fill="rgb(95,95,95)"/><polygon points="1476.1,945.3 1468.9,946.8 1462.5,941.8 1466.0,934.4 1473.5,931.8 1478.2,938.2" fill="rgb(99,99,99)"/><polygon points="1576.7,964.0 1580.1,958.0 1587.1,957.4 1591.6,963.5 1588.3,971.2 1579.6,971.4" fill="rgb(77,77,77)"/><polygon points="1605.5,983.6 1614.8,982.9 1620.1,991.2 1612.3,998.2 1604.0,992.9" fill="rgb(120,120,120)"/><polygon points="1514.0,942.4 1505.8,941.4 1503.0,934.4 1509.0,928.4 1515.6,933.9" fill="rgb(114,114,114)"/><polygon points="1545.9,933.6 1551.9,931.3 1558.6,932.1 1560.7,938.9 1556.2,943.9 1550.3,944.1 1544.5,940.6" fill="rgb(102,102,102)"/><polygon points="1581.8,937.7 1581.1,926.9 1590.5,922.5 1598.2,927.5 1599.6,936.8 1591.1,941.3" fill="rgb(77,77,77)"/><polygon points="1464.9,953.8 1471.4,951.3 1476.8,956.5 1473.5,962.7 1467.5,964.6 1463.0,959.9" fill="rgb(81,81,81)"/><polygon points="1597.6,1012.0 1593.9,1019.2 1585.5,1021.3 1579.3,1014.9 1579.3,1005.9 1587.1,1001.3 1595.8,1003.6" fill="rgb(93,93,93)"/><polygon points="1519.2,979.3 1523.8,975.8 1529.1,976.6 1532.4,981.2 1530.6,986.9 1524.8,988.9 1520.8,984.7" fill="rgb(120,120,120)"/><polygon points="1576.3,903.5 1569.5,901.6 1569.7,894.7 1574.7,891.3 1581.1,892.9 1582.1,899.9" fill="rgb(96,96,96)"/><polygon points="1638.8,992.8 1641.9,1000.0 1636.8,1005.9 1629.7,1002.3 1631.9,995.5" fill="rgb(108,108,108)"/><polygon points="1576.1,1022.5 1581.6,1021.4 1586.1,1025.9 1582.7,1031.3 1577.0,1032.0 1572.9,1027.5" fill="rgb(92,92,92)"/><polygon points="1465.1,940.2 1468.4,944.9 1467.5,951.5 1460.7,954.1 1456.3,949.1 1455.7,943.6 1459.3,939.0" fill="rgb(100,100,100)"/><polygon points="1474.0,968.9 1479.0,974.4 1474.4,980.9 1467.0,980.5 1463.7,974.2 1466.7,967.1" fill="rgb(77,77,77)"/><polygon points="1504.6,998.1 1508.6,992.6 1515.0,993.2 1519.9,997.5 1518.1,1003.8 1512.6,1007.6 1507.1,1004.1" fill="rgb(118,118,118)"/><polygon points="1625.9,1003.2 1620.7,999.6 1622.2,993.3 1627.5,990.4 1634.1,991.2 1635.7,997.9 1632.6,1004.3" fill="rgb(117,117,117)"/><polygon points="1590.3,920.8 1587.5,930.9 1576.5,928.7 1574.7,918.1 1584.2,912.7" fill="rgb(84,84,84)"/><polygon points="1626.0,937.2 1629.5,943.3 1624.4,948.2 1616.7,945.9 1618.7,937.8" fill="rgb(111,111,111)"/><polygon points="1619.5,1006.9 1610.2,1015.1 1600.3,1008.6 1602.4,997.0 1613.3,997.7" fill="rgb(113,113,113)"/><polygon points="1571.7,1021.8 1579.6,1021.2 1583.6,1028.2 1580.6,1036.7 1570.8,1037.0 1567.0,1028.4" fill="rgb(97,97,97)"/><polygon points="1301.3,1026.0 1295.2,1024.5 1293.2,1018.2 1297.6,1013.7 1303.9,1011.7 1307.4,1017.4 1306.5,1023.3" fill="rgb(135,135,135)"/><polygon points="1295.3,1019.7 1287.3,1014.3 1289.0,1005.3 1296.8,1001.1 1304.1,1006.3 1302.0,1014.3" fill="rgb(114,114,114)"/><polygon points="1286.1,1015.4 1287.6,1008.1 1295.2,1005.5 1300.6,1011.5 1298.8,1019.3 1291.1,1020.8" fill="rgb(123,123,123)"/><polygon points="1270.5,999.2 1278.9,993.4 1285.7,1000.3 1283.4,1010.0 1272.3,1009.7" fill="rgb(115,115,115)"/><polygon points="1258.8,1019.7 1254.2,1024.5 1248.1,1021.8 1245.7,1015.1 1251.6,1010.7 1257.3,1013.9" fill="rgb(135,135,135)"/><polygon points="1246.9,1028.1 1252.5,1021.4 1260.2,1025.0 1259.8,1033.3 1251.2,1036.1" fill="rgb(125,125,125)"/><polygon points="1293.8,1044.5 1288.4,1051.0 1281.3,1046.6 1282.5,1039.0 1290.4,1036.7" fill="rgb(118,118,118)"/><polygon points="1309.2,1037.3 1302.9,1034.8 1299.8,1028.2 1304.7,1022.6 1311.7,1021.8 1317.0,1026.9 1314.5,1033.5" fill="rgb(132,132,132)"/><polygon points="1315.4,1016.7 1304.5,1018.3 1301.4,1007.9 1308.9,1000.3 1319.4,1005.9" fill="rgb(113,113,113)"/><polygon points="1267.4,1033.1 1262.7,1030.5 1262.6,1025.1 1266.2,1020.1 1271.9,1022.5 1275.7,1027.1 1272.1,1031.7" fill="rgb(128,128,128)"/><polygon points="1266.2,1037.3 1260.0,1035.3 1259.0,1028.3 1264.9,1024.4 1270.5,1027.7 1270.5,1033.5" fill="rgb(146,146,146)"/><polygon points="1259.4,1030.5 1253.3,1023.2 1257.9,1015.8 1265.3,1014.4 1272.7,1019.7 1268.2,1028.1" fill="rgb(113,113,113)"/><polygon points="1275.5,1023.2 1275.6,1030.9 1269.6,1034.8 1263.2,1033.6 1258.2,1028.0 1261.8,1021.0 1269.1,1018.8" fill="rgb(132,132,132)"/><polygon points="1317.2,1028.9 1316.2,1022.3 1322.3,1019.0 1329.1,1020.7 1329.9,1027.3 1326.6,1031.8 1321.1,1033.3" fill="rgb(144,144,144)"/><polygon points="1328.7,1029.5 1325.1,1037.2 1317.4,1037.5 1309.6,1034.8 1310.7,1026.3 1316.1,1019.9 1323.5,1023.5" fill="rgb(146,146,146)"/><polygon points="1309.1,1010.1 1311.8,1016.1 1310.2,1021.8 1304.5,1026.3 1298.2,1022.0 1298.2,1015.2 1302.3,1010.4" fill="rgb(116,116,116)"/><polygon points="1314.0,1034.3 1318.2,1029.7 1324.1,1030.9 1326.1,1036.6 1322.3,1041.8 1316.0,1040.3" fill="rgb(143,143,143)"/><polygon points="1273.0,1002.5 1276.9,993.8 1287.0,995.5 1288.8,1006.1 1279.2,1008.8" fill="rgb(130,130,130)"/><polygon points="1307.0,1045.3 1300.2,1052.0 1291.6,1049.0 1289.9,1040.7 1295.6,1034.8 1303.8,1036.8" fill="rgb(130,130,130)"/><polygon points="1290.8,999.9 1295.8,998.4 1300.1,1001.5 1301.2,1007.1 1296.4,1010.2 1290.7,1010.0 1288.2,1004.7" fill="rgb(116,116,116)"/><polygon points="1265.4,1009.9 1265.9,1001.5 1273.9,1000.5 1277.7,1007.0 1272.7,1012.4" fill="rgb(129,129,129)"/></g>
<g filter="url(#b2)"><ellipse cx="1459" cy="684" rx="16" ry="12" fill="#161616" opacity="0.9"/><ellipse cx="1478" cy="676" rx="8" ry="7" fill="#161616" opacity="0.9"/><ellipse cx="1548" cy="623" rx="9" ry="8" fill="#161616" opacity="0.9"/><ellipse cx="1540" cy="617" rx="6" ry="5" fill="#161616" opacity="0.9"/><ellipse cx="1560" cy="645" rx="6" ry="6" fill="#161616" opacity="0.9"/><ellipse cx="1633" cy="772" rx="18" ry="8" fill="#161616" opacity="0.9"/><ellipse cx="1323" cy="691" rx="6" ry="6" fill="#161616" opacity="0.9"/><ellipse cx="1373" cy="806" rx="7" ry="6" fill="#161616" opacity="0.9"/><ellipse cx="1377" cy="838" rx="9" ry="10" fill="#161616" opacity="0.9"/><ellipse cx="1423" cy="861" rx="8" ry="7" fill="#161616" opacity="0.9"/><ellipse cx="1270" cy="952" rx="10" ry="9" fill="#161616" opacity="0.9"/><ellipse cx="1327" cy="884" rx="7" ry="6" fill="#161616" opacity="0.9"/><ellipse cx="1348" cy="909" rx="7" ry="5" fill="#161616" opacity="0.9"/><ellipse cx="1302" cy="931" rx="6" ry="6" fill="#161616" opacity="0.9"/><ellipse cx="1452" cy="943" rx="6" ry="5" fill="#161616" opacity="0.9"/><ellipse cx="1502" cy="991" rx="7" ry="6" fill="#161616" opacity="0.9"/><ellipse cx="1541" cy="1016" rx="6" ry="5" fill="#161616" opacity="0.9"/><ellipse cx="1498" cy="1034" rx="7" ry="7" fill="#161616" opacity="0.9"/><ellipse cx="1591" cy="1038" rx="6" ry="5" fill="#161616" opacity="0.9"/><ellipse cx="1648" cy="934" rx="5" ry="8" fill="#161616" opacity="0.9"/><ellipse cx="1253" cy="584" rx="5" ry="5" fill="#161616" opacity="0.9"/></g>

  </g>
  <g filter="url(#b1)" opacity="0.75">
  <text x="1197.5" y="1006.7" font-family="Liberation Sans, sans-serif" font-weight="bold" font-size="19.8" fill="none" stroke="#f2f2f2" stroke-width="4" stroke-linejoin="round">20 nm</text>
  <rect x="1197.8" y="1013.4" width="65.2" height="7.2" fill="none" stroke="#f2f2f2" stroke-width="4"/>
  </g>
  <text x="1197.5" y="1006.7" font-family="Liberation Sans, sans-serif" font-weight="bold" font-size="19.8" fill="#000">20 nm</text>
  <rect x="1197.8" y="1013.4" width="65.2" height="7.2" fill="#000"/>
</g>

<clipPath id="plotclip"><rect x="238" y="72" width="1448" height="1045"/></clipPath>
<polyline clip-path="url(#plotclip)" points="254.5,1123.6 254.7,1122.2 255.2,1120.5 256.5,1108.1 256.8,1106.5 257.1,1103.2 257.5,1099.4 257.9,1096.9 258.3,1092.2 258.7,1089.1 259.2,1084.2 259.7,1080.0 260.2,1076.2 260.7,1072.5 261.2,1066.5 261.7,1062.0 262.2,1058.0 262.8,1053.9 263.3,1048.5 263.8,1043.4 264.3,1040.0 264.8,1033.6 265.3,1030.8 265.7,1025.4 266.2,1021.0 266.6,1017.0 267.1,1013.1 267.5,1009.8 267.9,1004.3 268.4,1001.0 268.8,997.0 269.2,992.4 269.6,988.8 270.0,983.9 270.4,980.0 270.7,976.4 271.1,973.4 271.5,969.1 271.9,965.0 272.3,961.7 272.6,957.5 273.0,953.3 273.4,950.4 273.8,946.3 274.2,941.4 274.6,938.1 275.0,934.0 275.4,930.7 275.8,926.4 276.2,921.5 276.6,918.9 277.0,913.1 277.4,909.7 277.8,906.4 278.2,901.2 278.6,897.9 279.0,893.0 279.4,890.2 279.8,886.4 280.2,882.0 280.6,878.6 281.0,873.5 281.4,870.3 281.8,866.1 282.2,862.1 282.6,857.8 283.0,854.6 283.4,850.8 283.8,845.9 284.1,842.3 284.5,837.1 284.9,834.4 285.3,830.3 285.7,827.0 286.1,822.7 286.5,817.6 286.9,813.8 287.3,810.4 287.7,805.1 288.1,802.0 288.5,797.4 289.0,793.3 289.4,789.1 289.9,786.5 290.3,781.1 290.8,777.2 291.3,773.4 291.8,770.2 292.3,764.4 292.9,761.0 293.4,757.0 293.9,753.5 294.4,749.2 295.0,745.2 295.5,739.9 296.0,736.1 296.5,732.0 297.0,729.1 297.5,725.3 298.0,719.8 298.4,716.1 298.9,712.6 299.4,708.0 300.0,704.1 300.5,700.0 301.0,695.2 301.4,690.5 301.9,687.3 302.4,683.2 302.8,679.6 303.3,676.5 303.7,672.0 304.2,667.8 304.7,664.1 305.2,660.2 305.7,655.0 306.3,652.6 306.9,648.3 307.5,644.4 308.1,640.1 308.7,635.2 309.4,631.1 310.0,626.4 310.7,623.4 311.4,618.2 312.1,614.1 312.7,610.3 313.4,606.1 314.1,602.4 314.8,597.7 315.4,593.5 316.1,589.7 316.8,585.5 317.4,581.9 318.0,577.0 318.7,574.5 319.3,569.7 320.0,564.6 320.6,560.6 321.2,556.6 321.9,552.5 322.5,547.9 323.2,545.3 323.9,541.6 324.5,536.6 325.2,532.8 325.9,528.3 326.8,523.8 327.7,519.9 328.6,515.5 329.5,512.5 330.4,507.1 331.4,502.9 332.3,500.8 333.3,496.0 334.2,491.3 335.1,488.2 336.0,483.1 336.9,480.1 337.8,476.8 338.6,472.4 339.4,467.9 340.2,462.8 341.0,458.8 341.8,454.2 342.7,451.3 343.5,446.6 344.3,443.0 345.2,438.0 346.1,433.7 347.0,430.8 348.0,426.8 349.1,422.3 350.2,418.0 351.3,413.8 352.4,409.5 353.6,404.3 354.7,400.7 355.9,396.3 357.1,391.5 358.4,387.3 359.7,383.7 360.9,379.8 362.1,376.8 363.4,373.5 364.6,368.7 365.9,365.8 367.2,362.1 368.5,358.2 369.9,353.2 371.3,349.0 372.7,345.2 374.2,341.3 375.8,337.5 377.4,334.4 379.2,331.0 381.1,326.7 383.0,321.8 385.0,318.0 387.0,314.2 389.0,308.7 390.9,306.0 392.7,302.7 394.5,298.9 396.1,295.5 397.6,292.0 400.1,286.2 402.2,283.2 404.0,278.7 405.7,276.4 407.4,273.5 409.2,268.8 411.1,264.8 413.1,261.8 415.1,257.2 417.0,252.2 418.9,248.4 420.7,245.3 423.9,241.9 426.9,238.0 430.0,233.8 434.8,231.9 440.3,230.9 445.1,230.5 450.4,231.2 455.3,233.5 459.4,235.4 463.1,238.6 466.8,244.1 469.6,246.1 472.4,248.6 475.3,252.3 478.3,254.4 481.5,258.7 484.9,262.3 488.4,264.8 492.1,268.3 495.9,271.5 499.7,274.4 503.8,277.9 508.2,280.1 512.0,282.7 516.1,284.4 520.4,288.2 524.7,289.4 528.9,292.0 532.3,294.4 535.7,297.3 539.2,298.6 542.6,301.8 546.1,303.0 549.7,304.9 553.4,306.4 557.2,306.9 561.1,309.0 565.0,309.6 568.8,310.3 572.7,312.7 577.3,312.2 581.9,313.4 586.5,314.3 591.1,314.1 595.7,313.7 600.3,313.9 604.9,313.8 609.5,313.8 614.1,311.8 618.7,311.8 622.5,310.3 626.4,309.2 630.2,309.0 634.1,307.0 638.0,305.5 641.8,304.1 645.6,302.3 649.5,299.0 653.3,296.8 657.1,293.9 661.0,291.2 664.8,289.0 668.7,286.0 672.6,283.5 676.5,280.8 680.4,279.2 684.2,276.3 687.8,274.5 691.9,272.2 695.9,268.6 699.7,267.2 703.4,266.0 707.0,263.8 711.4,260.0 715.7,257.6 719.9,256.0 724.1,252.8 728.4,250.6 732.6,247.5 736.8,246.0 741.1,244.1 745.4,242.7 749.6,239.9 753.9,240.0 758.2,238.7 762.5,236.4 766.7,236.5 770.9,235.4 775.2,232.6 779.5,232.9 783.8,230.7 788.0,229.8 792.3,230.0 796.6,229.0 800.8,227.2 805.0,227.4 809.3,227.3 813.6,226.8 817.8,226.5 822.1,226.8 826.4,227.7 830.7,226.6 834.9,228.0 839.2,228.2 843.4,228.0 847.6,229.6 851.9,231.2 856.1,232.2 860.4,232.3 864.7,235.0 868.9,235.3 873.2,236.5 877.5,235.8 881.8,237.7 886.0,239.0 890.2,242.4 894.5,243.0 898.8,244.2 903.0,246.0 907.3,248.2 911.6,249.2 915.9,249.3 920.1,250.2 924.3,253.0 928.6,253.8 932.9,256.0 937.1,256.9 941.4,259.0 945.7,262.6 950.0,264.4 954.2,266.3 958.4,270.4 962.7,271.9 967.1,273.8 971.7,273.6 976.0,276.3 979.8,275.8 984.9,279.4 990.0,280.9 993.8,282.6 998.1,285.3 1002.6,288.3 1007.0,288.9 1011.3,289.9 1015.5,291.6 1019.8,292.0 1024.1,292.9 1028.4,294.8 1032.6,296.6 1036.8,298.9 1041.1,301.0 1045.4,302.6 1049.6,305.1 1053.9,305.6 1058.2,307.3 1062.5,307.9 1066.7,309.4 1070.9,309.8 1075.2,311.1 1079.5,311.1 1083.7,312.8 1088.0,312.7 1092.3,312.7 1096.6,314.5 1100.8,317.1 1105.0,317.1 1109.3,319.9 1113.6,320.2 1117.9,321.3 1122.1,322.7 1126.4,322.5 1130.7,323.2 1134.9,323.9 1139.2,324.9 1143.4,324.1 1147.6,325.9 1151.9,326.6 1156.1,327.4 1160.4,327.6 1164.7,327.8 1169.0,327.4 1173.2,327.6 1177.5,327.7 1181.8,329.7 1186.0,329.5 1190.2,330.1 1194.5,330.4 1198.8,331.9 1203.0,331.8 1207.3,331.0 1211.6,329.9 1215.9,329.4 1220.1,329.0 1224.3,328.8 1228.6,327.9 1232.9,328.3 1237.1,327.9 1241.4,329.3 1245.7,329.5 1250.0,329.2 1254.2,329.4 1258.4,331.6 1262.7,330.8 1266.9,331.2 1271.0,330.6 1275.3,331.3 1280.0,331.3 1284.2,331.2 1288.7,330.3 1293.4,330.5 1298.1,329.1 1302.7,329.2 1307.3,328.4 1311.8,328.6 1316.4,327.3 1320.9,326.8 1325.5,327.0 1330.1,326.6 1334.8,327.1 1339.4,326.8 1343.9,327.0 1348.2,326.6 1353.4,326.2 1358.3,325.9 1363.1,324.4 1367.5,324.2 1372.6,326.3 1377.1,326.1 1382.3,327.8 1385.9,327.2 1389.8,325.1 1393.9,325.5 1398.2,324.7 1402.7,323.7 1406.6,323.9 1410.8,324.4 1415.1,323.5 1419.4,324.8 1423.6,325.3 1427.7,326.4 1432.3,326.6 1436.7,327.0 1441.0,326.8 1445.5,327.6 1450.5,327.2 1454.4,327.1 1458.6,325.9 1462.9,325.1 1467.3,325.0 1471.7,325.1 1476.0,324.5 1480.0,326.0 1484.4,325.8 1488.7,326.6 1492.8,327.5 1496.8,328.4 1500.9,328.8 1505.0,328.4 1509.2,330.3 1513.3,330.4 1517.5,330.0 1521.7,330.1 1525.8,330.4 1530.0,329.1 1534.2,330.3 1538.3,329.0 1542.5,328.3 1546.7,328.3 1550.8,329.1 1555.0,328.2 1559.2,329.8 1563.3,331.1 1567.5,331.1 1571.7,331.9 1575.8,333.0 1580.0,334.2 1584.2,334.9 1588.3,335.0 1592.5,335.4 1596.7,334.6 1600.8,335.1 1605.0,335.8 1609.2,337.3 1613.3,337.0 1617.5,338.2 1621.7,337.7 1625.8,338.5 1630.0,339.5 1634.2,341.0 1638.4,341.6 1642.6,342.3 1646.7,342.1 1650.9,343.2 1655.0,343.7 1659.3,344.4 1664.0,344.4 1668.6,346.7 1672.8,345.9 1676.4,348.1 1679.0,347.5" fill="none" stroke="#000" stroke-width="9" stroke-linejoin="round" stroke-linecap="butt" shape-rendering="crispEdges"/>
<path d="M238,1117 V72 H1686 V1117 Z" fill="none" stroke="#000" stroke-width="14" stroke-linejoin="round"/>
<path d="M310.4,1110 V1107 M382.8,1110 V1096 M455.2,1110 V1107 M527.6,1110 V1096 M600.0,1110 V1107 M672.4,1110 V1096 M744.8,1110 V1107 M817.2,1110 V1096 M889.6,1110 V1107 M962.0,1110 V1096 M1034.4,1110 V1107 M1106.8,1110 V1096 M1179.2,1110 V1107 M1251.6,1110 V1096 M1324.0,1110 V1107 M1396.4,1110 V1096 M1468.8,1110 V1107 M1541.2,1110 V1096 M1613.6,1110 V1107 M245,986.4 H249 M245,855.8 H259 M245,725.1 H249 M245,594.5 H259 M245,463.9 H249 M245,333.2 H259 M245,202.6 H249" stroke="#000" stroke-width="14" stroke-linecap="round" fill="none"/>
<polyline clip-path="url(#plotclip)" points="262.3,1124.9 262.0,1125.2 263.3,1115.9 263.6,1114.3 264.0,1111.8 264.4,1107.8 264.9,1104.1 265.3,1100.5 265.9,1098.2 266.4,1092.7 267.0,1089.3 267.6,1084.1 268.2,1080.4 268.8,1076.7 269.4,1070.4 270.1,1067.1 270.7,1061.7 271.4,1057.7 272.0,1052.6 272.7,1047.0 273.3,1043.7 273.9,1038.3 274.5,1033.0 275.1,1028.6 275.7,1025.5 276.2,1021.4 276.7,1017.4 277.3,1012.6 277.9,1008.6 278.5,1004.2 279.0,1001.0 279.6,995.2 280.1,992.7 280.7,988.9 281.2,983.5 281.7,981.2 282.2,977.0 282.7,973.5 283.2,968.5 283.7,964.9 284.2,961.1 284.7,958.5 285.2,953.8 285.7,949.5 286.3,945.7 286.8,941.5 287.3,937.0 287.9,933.1 288.4,930.6 289.0,925.5 289.5,922.8 290.1,917.4 290.6,913.4 291.2,909.9 291.7,905.3 292.3,901.6 292.8,898.8 293.4,894.7 293.9,890.5 294.4,886.2 295.0,882.7 295.5,878.8 296.0,874.0 296.5,870.3 297.0,865.0 297.5,862.4 297.9,857.8 298.4,854.4 298.9,850.2 299.3,845.5 299.7,841.1 300.1,838.8 300.6,833.2 301.0,829.9 301.4,825.7 301.8,821.6 302.2,818.5 302.7,815.0 303.1,809.6 303.5,806.4 303.9,801.6 304.4,798.1 304.8,793.8 305.3,789.3 305.8,785.3 306.3,781.3 306.7,778.6 307.2,773.6 307.7,768.9 308.2,766.1 308.8,762.1 309.3,756.8 309.8,752.0 310.3,747.9 310.8,743.6 311.3,740.0 311.8,735.4 312.3,731.7 312.8,727.8 313.3,724.5 313.8,721.3 314.3,717.3 314.8,712.9 315.4,708.4 316.0,704.2 316.6,699.6 317.1,695.3 317.7,690.6 318.2,687.0 318.8,684.4 319.4,678.8 319.9,675.6 320.5,671.9 321.0,668.5 321.6,663.2 322.2,659.4 322.8,655.4 323.4,651.6 324.0,647.6 324.7,644.5 325.3,640.2 325.9,636.2 326.6,630.4 327.3,626.3 327.9,623.6 328.6,619.8 329.3,614.9 330.0,611.0 330.6,605.8 331.3,602.5 332.0,599.4 332.6,595.1 333.3,591.1 334.0,587.2 334.6,581.6 335.2,577.2 335.9,573.0 336.5,569.6 337.2,565.7 337.8,562.0 338.5,557.3 339.1,553.0 339.7,549.2 340.4,544.5 341.1,540.7 341.7,535.7 342.4,533.4 343.1,528.6 344.0,525.4 344.9,520.5 345.8,515.6 346.7,511.1 347.6,507.3 348.5,504.1 349.4,500.3 350.4,495.2 351.3,491.2 352.2,488.1 353.2,484.2 354.1,479.8 355.0,475.2 356.0,471.6 356.9,466.0 357.9,462.1 358.8,457.9 359.8,454.4 360.7,449.4 361.7,445.6 362.6,440.7 363.6,436.4 364.5,432.9 365.4,431.1 367.2,425.1 368.8,419.8 370.5,415.4 372.2,413.1 373.9,410.4 375.8,406.8 378.8,402.2 382.0,399.2 385.4,396.5 389.0,392.5 392.9,389.9 397.1,388.9 401.4,388.0 405.7,388.0 410.1,387.2 414.7,389.2 419.1,390.3 423.0,391.1 427.3,392.3 430.9,396.0 434.5,397.6 437.3,401.4 440.1,403.5 443.0,407.1 446.0,412.3 448.2,414.5 450.5,419.3 452.8,422.0 455.2,425.1 457.6,428.8 459.9,432.4 462.7,436.6 465.4,440.7 468.2,442.4 470.9,445.9 473.7,448.1 478.4,453.1 483.1,454.0 487.5,455.8 491.3,457.6 494.9,459.6 499.0,461.0 502.6,460.5 506.6,459.3 510.8,458.4 515.1,456.5 518.7,453.4 522.4,450.9 526.2,450.0 529.9,447.1 533.5,443.2 536.8,442.2 539.8,439.5 542.8,437.2 546.1,434.6 549.7,431.1 552.2,428.5 555.0,426.5 557.8,424.0 560.8,422.3 563.8,417.7 566.8,416.3 569.8,411.7 572.7,408.9 575.6,406.7 578.5,403.3 581.3,399.1 584.2,394.9 587.1,392.3 590.0,388.6 592.8,386.2 595.7,381.4 598.6,378.4 601.4,376.2 604.3,371.3 607.2,368.8 610.1,366.4 612.9,363.1 615.8,358.4 618.7,355.1 621.6,351.7 624.5,350.0 627.4,345.2 630.2,342.6 633.1,339.4 636.0,334.9 638.9,331.5 641.8,329.8 645.1,325.8 648.5,321.8 651.9,319.7 655.3,315.9 658.6,313.0 661.8,309.7 664.8,308.7 668.8,305.7 672.6,302.2 676.2,300.1 679.7,295.7 683.2,293.9 687.6,291.8 691.9,290.6 695.9,288.7 699.3,286.1 703.1,284.3 707.0,283.4 710.6,282.1 715.0,281.3 719.6,278.2 724.1,278.2 728.4,277.3 732.6,277.0 736.8,276.8 741.1,276.6 745.4,276.7 749.6,277.8 753.9,279.1 758.2,281.0 762.5,280.3 766.7,281.2 770.9,283.0 775.2,283.0 779.5,283.9 783.8,285.4 788.0,288.0 792.3,289.2 796.6,291.9 800.8,293.2 805.0,294.8 809.3,294.9 813.6,296.2 817.8,297.9 822.1,300.5 826.4,302.7 830.7,304.0 834.9,305.4 839.2,307.7 843.4,310.1 847.6,312.5 851.9,315.1 856.1,317.8 860.4,319.6 864.7,320.4 868.9,323.5 873.2,324.0 877.5,326.2 881.8,327.7 886.0,330.5 890.2,331.4 894.5,333.3 898.8,335.0 903.0,336.4 907.3,339.3 911.6,340.0 915.9,340.4 920.1,341.2 924.3,343.2 928.6,343.2 932.9,344.1 937.1,347.1 941.4,348.6 945.7,351.0 950.0,350.9 954.2,353.3 958.4,355.5 962.7,356.7 967.1,357.4 971.7,355.8 976.0,356.3 979.8,356.0 984.9,356.4 990.0,358.5 993.8,358.5 998.1,360.2 1002.6,360.0 1007.0,361.7 1011.3,361.3 1015.5,361.2 1019.8,362.4 1024.1,362.8 1028.4,361.2 1032.6,362.1 1036.8,362.2 1041.1,361.3 1045.4,361.7 1049.6,361.3 1053.9,361.4 1058.2,361.4 1062.5,361.8 1066.7,361.5 1070.9,360.1 1075.2,359.2 1079.5,359.2 1083.7,359.2 1088.0,357.5 1092.3,357.2 1096.6,356.8 1100.8,357.9 1105.0,357.3 1109.3,355.9 1113.6,355.1 1117.9,354.6 1122.1,353.6 1126.4,352.8 1130.7,350.9 1134.9,350.4 1139.2,350.8 1143.4,349.7 1147.6,349.1 1151.9,348.8 1156.1,349.7 1160.4,347.8 1164.7,347.2 1169.0,345.4 1173.2,344.1 1177.5,343.8 1181.8,343.3 1186.0,341.5 1190.2,340.6 1194.5,341.1 1198.8,339.2 1203.0,338.0 1207.3,338.9 1211.6,337.0 1215.9,336.8 1220.1,334.9 1224.3,334.8 1228.6,332.8 1232.9,331.1 1237.1,329.7 1241.4,329.7 1245.7,328.9 1250.0,328.7 1254.2,326.4 1258.4,326.9 1262.7,325.8 1266.9,325.5 1271.0,324.2 1275.3,323.9 1280.0,323.5 1284.2,323.5 1288.7,321.0 1293.4,320.8 1298.1,320.4 1302.7,319.8 1307.3,317.4 1311.8,316.4 1316.4,317.2 1320.9,316.5 1325.5,314.9 1330.0,313.4 1334.6,314.7 1339.1,313.2 1343.7,313.8 1348.2,312.8 1352.7,312.9 1357.3,311.1 1361.8,312.0 1366.4,310.6 1370.9,310.7 1375.4,311.4 1380.0,311.3 1384.5,309.9 1389.1,309.9 1393.6,310.1 1398.2,310.0 1402.7,309.4 1407.3,308.5 1411.8,308.4 1416.4,309.0 1420.9,309.2 1425.5,307.4 1430.0,308.4 1434.6,308.7 1439.1,307.2 1443.7,308.7 1448.4,307.1 1453.0,308.0 1457.5,307.8 1461.8,307.8 1466.5,306.8 1470.8,306.7 1475.1,306.7 1480.0,306.3 1483.8,306.8 1487.8,306.5 1492.1,306.7 1496.4,306.1 1500.8,307.5 1505.0,307.5 1509.2,307.2 1513.5,308.6 1517.8,308.9 1522.0,308.5 1526.1,308.1 1530.0,308.7 1534.4,307.8 1538.5,307.4 1542.4,307.5 1546.2,306.4 1550.0,306.9 1554.4,307.2 1558.4,306.7 1562.7,308.4 1567.5,308.0 1571.2,309.7 1575.3,310.3 1579.5,310.4 1583.9,310.0 1588.2,311.4 1592.5,311.7 1596.7,313.2 1600.8,311.9 1605.0,313.6 1609.2,314.1 1613.3,313.9 1617.5,314.4 1621.7,313.6 1625.8,315.7 1630.0,315.3 1634.2,316.8 1638.3,317.2 1642.5,316.2 1646.7,317.9 1651.1,318.6 1655.4,317.3 1659.6,318.3 1663.7,319.5 1667.5,318.7 1673.1,320.9 1678.5,320.4 1683.1,322.1 1686.3,321.9" fill="none" stroke="#f00" stroke-width="9" stroke-linejoin="round" stroke-linecap="butt" shape-rendering="crispEdges"/>
<text transform="translate(238.0,1175.9) scale(0.945,1)" font-family="Liberation Sans, Arial, sans-serif" font-weight="bold" font-size="52" text-anchor="middle">300</text>
<text transform="translate(382.8,1175.9) scale(0.945,1)" font-family="Liberation Sans, Arial, sans-serif" font-weight="bold" font-size="52" text-anchor="middle">350</text>
<text transform="translate(527.6,1175.9) scale(0.945,1)" font-family="Liberation Sans, Arial, sans-serif" font-weight="bold" font-size="52" text-anchor="middle">400</text>
<text transform="translate(672.4,1175.9) scale(0.945,1)" font-family="Liberation Sans, Arial, sans-serif" font-weight="bold" font-size="52" text-anchor="middle">450</text>
<text transform="translate(817.2,1175.9) scale(0.945,1)" font-family="Liberation Sans, Arial, sans-serif" font-weight="bold" font-size="52" text-anchor="middle">500</text>
<text transform="translate(962.0,1175.9) scale(0.945,1)" font-family="Liberation Sans, Arial, sans-serif" font-weight="bold" font-size="52" text-anchor="middle">550</text>
<text transform="translate(1106.8,1175.9) scale(0.945,1)" font-family="Liberation Sans, Arial, sans-serif" font-weight="bold" font-size="52" text-anchor="middle">600</text>
<text transform="translate(1251.6,1175.9) scale(0.945,1)" font-family="Liberation Sans, Arial, sans-serif" font-weight="bold" font-size="52" text-anchor="middle">650</text>
<text transform="translate(1396.4,1175.9) scale(0.945,1)" font-family="Liberation Sans, Arial, sans-serif" font-weight="bold" font-size="52" text-anchor="middle">700</text>
<text transform="translate(1541.2,1175.9) scale(0.945,1)" font-family="Liberation Sans, Arial, sans-serif" font-weight="bold" font-size="52" text-anchor="middle">750</text>
<text transform="translate(1686.0,1175.9) scale(0.945,1)" font-family="Liberation Sans, Arial, sans-serif" font-weight="bold" font-size="52" text-anchor="middle">800</text>
<text transform="translate(215.8,1129.6) scale(0.945,1)" font-family="Liberation Sans, Arial, sans-serif" font-weight="bold" font-size="52" text-anchor="end">20</text>
<text transform="translate(215.8,868.4) scale(0.945,1)" font-family="Liberation Sans, Arial, sans-serif" font-weight="bold" font-size="52" text-anchor="end">40</text>
<text transform="translate(215.8,607.1) scale(0.945,1)" font-family="Liberation Sans, Arial, sans-serif" font-weight="bold" font-size="52" text-anchor="end">60</text>
<text transform="translate(215.8,345.9) scale(0.945,1)" font-family="Liberation Sans, Arial, sans-serif" font-weight="bold" font-size="52" text-anchor="end">80</text>
<text transform="translate(215.8,84.6) scale(0.945,1)" font-family="Liberation Sans, Arial, sans-serif" font-weight="bold" font-size="52" text-anchor="end">100</text>
<text transform="translate(674.8,1252.9) scale(0.6513,0.67)" font-family="Liberation Sans, Arial, sans-serif" font-weight="bold" font-size="100">Wavelength (nm)</text>
<text transform="translate(106,856.6) rotate(-90) scale(0.6386,0.665)" font-family="Liberation Sans, Arial, sans-serif" font-weight="bold" font-size="100">Transmittance (%)</text>
<path d="M965.5,128.5 H1083.5" stroke="#000" stroke-width="9" stroke-linecap="round"/>
<path d="M965.5,191.5 H1083.5" stroke="#f00" stroke-width="9" stroke-linecap="round"/>
<text transform="translate(1097,144.8) scale(0.5024,0.52)" font-family="Liberation Sans, Arial, sans-serif" font-weight="bold" font-size="100">glass/ITO/PEDOT:PSS</text>
<text transform="translate(1097,207.9) scale(0.5024,0.52)" font-family="Liberation Sans, Arial, sans-serif" font-weight="bold" font-size="100">glass/ITO/NiO</text>
<text transform="translate(1434.6,211) scale(0.266,0.283)" font-family="Liberation Sans, Arial, sans-serif" font-weight="bold" font-size="100">x</text>
<text transform="translate(1450.4,207.9) scale(0.5024,0.52)" font-family="Liberation Sans, Arial, sans-serif" font-weight="bold" font-size="100">NP</text>
</svg>
</body></html>
